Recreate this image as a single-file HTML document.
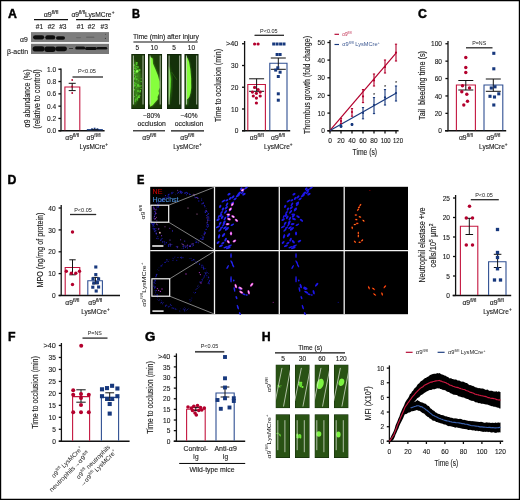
<!DOCTYPE html>
<html lang="en"><head><meta charset="utf-8"><title>Figure</title>
<style>html,body{margin:0;padding:0;background:#fff}body{width:520px;height:500px;overflow:hidden}svg{display:block}text{white-space:pre}</style></head>
<body>
<svg width="520" height="500" viewBox="0 0 520 500" font-family='"Liberation Sans", sans-serif'>
<defs>
<filter id="b04" x="-20%" y="-20%" width="140%" height="140%"><feGaussianBlur stdDeviation="0.4"/></filter>
<filter id="b05" x="-20%" y="-20%" width="140%" height="140%"><feGaussianBlur stdDeviation="0.5"/></filter>
<filter id="b06" x="-20%" y="-20%" width="140%" height="140%"><feGaussianBlur stdDeviation="0.6"/></filter>
<filter id="b07" x="-20%" y="-20%" width="140%" height="140%"><feGaussianBlur stdDeviation="0.7"/></filter>
<filter id="b08" x="-20%" y="-20%" width="140%" height="140%"><feGaussianBlur stdDeviation="0.8"/></filter>
<filter id="b12" x="-20%" y="-20%" width="140%" height="140%"><feGaussianBlur stdDeviation="1.2"/></filter>
<clipPath id="cb0"><rect x="131.2" y="53.9" width="13.80" height="55.2"/></clipPath>
<clipPath id="cb1"><rect x="147.9" y="53.9" width="14.30" height="55.2"/></clipPath>
<clipPath id="cb2"><rect x="166.9" y="53.9" width="14.80" height="55.2"/></clipPath>
<clipPath id="cb3"><rect x="184.3" y="53.9" width="14.40" height="55.2"/></clipPath>
<clipPath id="ch0"><rect x="275.5" y="364.5" width="14.50" height="43.80"/></clipPath>
<clipPath id="ch1"><rect x="294.9" y="364.5" width="14.80" height="43.80"/></clipPath>
<clipPath id="ch2"><rect x="314.5" y="364.5" width="14.70" height="43.80"/></clipPath>
<clipPath id="ch3"><rect x="333.9" y="364.5" width="14.70" height="43.80"/></clipPath>
<clipPath id="ch4"><rect x="275.5" y="414.2" width="14.50" height="43.80"/></clipPath>
<clipPath id="ch5"><rect x="294.9" y="414.2" width="14.80" height="43.80"/></clipPath>
<clipPath id="ch6"><rect x="314.5" y="414.2" width="14.70" height="43.80"/></clipPath>
<clipPath id="ch7"><rect x="333.9" y="414.2" width="14.70" height="43.80"/></clipPath>
</defs>
<rect x="0.00" y="0.00" width="520.00" height="500.00" fill="#fff"/>
<path d="M0 0H520V500H0Z M1.2 1.3V498.8H518.8V1.3Z" fill="#000" fill-rule="evenodd"/>
<text x="8.1" y="18.099999999999998" font-size="12.3" font-weight="bold" fill="#000" stroke="#000" stroke-width="0.45">A</text>
<text x="51" y="16.9" font-size="6.8" text-anchor="middle" textLength="14.6" lengthAdjust="spacingAndGlyphs" fill="#1a1a1a" stroke="#1a1a1a" stroke-width="0.12">α9<tspan font-size="4.9" dy="-3.13">fl/fl</tspan></text>
<line x1="34" y1="19.6" x2="68" y2="19.6" stroke="#111" stroke-width="1.1"/>
<text x="71.4" y="17" font-size="6.8" textLength="43" lengthAdjust="spacingAndGlyphs" fill="#1a1a1a" stroke="#1a1a1a" stroke-width="0.12">α9<tspan font-size="4.8" dy="-3.1">fl/fl</tspan><tspan dy="3.1">LysMCre</tspan><tspan font-size="4.8" dy="-3.1">+</tspan></text>
<line x1="76" y1="19.6" x2="110" y2="19.6" stroke="#111" stroke-width="1.1"/>
<text x="39.5" y="29.2" font-size="6.6" text-anchor="middle" fill="#1a1a1a" stroke="#1a1a1a" stroke-width="0.12">#1</text>
<text x="51.3" y="29.2" font-size="6.6" text-anchor="middle" fill="#1a1a1a" stroke="#1a1a1a" stroke-width="0.12">#2</text>
<text x="62.8" y="29.2" font-size="6.6" text-anchor="middle" fill="#1a1a1a" stroke="#1a1a1a" stroke-width="0.12">#3</text>
<text x="80.5" y="29.2" font-size="6.6" text-anchor="middle" fill="#1a1a1a" stroke="#1a1a1a" stroke-width="0.12">#1</text>
<text x="91.5" y="29.2" font-size="6.6" text-anchor="middle" fill="#1a1a1a" stroke="#1a1a1a" stroke-width="0.12">#2</text>
<text x="104.2" y="29.2" font-size="6.6" text-anchor="middle" fill="#1a1a1a" stroke="#1a1a1a" stroke-width="0.12">#3</text>
<g filter="url(#b06)">
<rect x="31.00" y="32.10" width="78.00" height="10.00" fill="#7e7e7e"/>
<rect x="31.00" y="43.80" width="78.00" height="10.20" fill="#787878"/>
</g>
<g filter="url(#b06)">
<rect x="33" y="35.199999999999996" width="11.200000000000003" height="4.2" rx="2.1" fill="#111" opacity="1"/>
<rect x="45.2" y="35.199999999999996" width="10.0" height="4.4" rx="2.2" fill="#111" opacity="1"/>
<rect x="56" y="36.3" width="9" height="3.4" rx="1.7" fill="#111" opacity="1"/>
<rect x="76" y="37.0" width="5" height="1.2" rx="0.6" fill="#444" opacity="0.35"/>
<rect x="86" y="36.55" width="8.5" height="1.5" rx="0.75" fill="#444" opacity="0.4"/>
<circle cx="105.60" cy="34.20" r="0.5" fill="#444"/>
<circle cx="105.40" cy="38.30" r="0.6" fill="#333"/>
<rect x="32.6" y="46.199999999999996" width="12.0" height="5.2" rx="2.6" fill="#111"/>
<rect x="44.4" y="46.5" width="11.200000000000003" height="5.4" rx="2.7" fill="#111"/>
<rect x="55.2" y="46.4" width="11.799999999999997" height="4.8" rx="2.4" fill="#111"/>
<rect x="75.2" y="46.5" width="10.0" height="3" rx="1.5" fill="#111"/>
<rect x="85" y="47.0" width="11.799999999999997" height="3" rx="1.5" fill="#111"/>
<rect x="96.6" y="46.900000000000006" width="10.600000000000009" height="2.6" rx="1.3" fill="#111"/>
<rect x="69.00" y="48.10" width="4.00" height="0.90" fill="#333"/>
</g>
<text x="27.8" y="42.2" font-size="6.8" text-anchor="end" fill="#1a1a1a" stroke="#1a1a1a" stroke-width="0.12">α9</text>
<text x="28" y="53.6" font-size="6.8" text-anchor="end" textLength="21" lengthAdjust="spacingAndGlyphs" fill="#1a1a1a" stroke="#1a1a1a" stroke-width="0.12">β-actin</text>
<line x1="61" y1="68.6" x2="61" y2="131.3" stroke="#111" stroke-width="1.3"/>
<line x1="58.4" y1="69.25" x2="61" y2="69.25" stroke="#111" stroke-width="1.3"/>
<text x="56.2" y="71.878" font-size="7.3" text-anchor="end" textLength="9.13" lengthAdjust="spacingAndGlyphs" fill="#1a1a1a" stroke="#1a1a1a" stroke-width="0.12">1.0</text>
<line x1="58.4" y1="81.55" x2="61" y2="81.55" stroke="#111" stroke-width="1.3"/>
<text x="56.2" y="84.178" font-size="7.3" text-anchor="end" textLength="9.13" lengthAdjust="spacingAndGlyphs" fill="#1a1a1a" stroke="#1a1a1a" stroke-width="0.12">0.8</text>
<line x1="58.4" y1="93.85" x2="61" y2="93.85" stroke="#111" stroke-width="1.3"/>
<text x="56.2" y="96.478" font-size="7.3" text-anchor="end" textLength="9.13" lengthAdjust="spacingAndGlyphs" fill="#1a1a1a" stroke="#1a1a1a" stroke-width="0.12">0.6</text>
<line x1="58.4" y1="106.15" x2="61" y2="106.15" stroke="#111" stroke-width="1.3"/>
<text x="56.2" y="108.778" font-size="7.3" text-anchor="end" textLength="9.13" lengthAdjust="spacingAndGlyphs" fill="#1a1a1a" stroke="#1a1a1a" stroke-width="0.12">0.4</text>
<line x1="58.4" y1="118.45" x2="61" y2="118.45" stroke="#111" stroke-width="1.3"/>
<text x="56.2" y="121.078" font-size="7.3" text-anchor="end" textLength="9.13" lengthAdjust="spacingAndGlyphs" fill="#1a1a1a" stroke="#1a1a1a" stroke-width="0.12">0.2</text>
<line x1="58.4" y1="130.75" x2="61" y2="130.75" stroke="#111" stroke-width="1.3"/>
<text x="56.2" y="133.378" font-size="7.3" text-anchor="end" textLength="9.13" lengthAdjust="spacingAndGlyphs" fill="#1a1a1a" stroke="#1a1a1a" stroke-width="0.12">0.0</text>
<line x1="58.6" y1="130.75" x2="104.6" y2="130.75" stroke="#111" stroke-width="1.3"/>
<path d="M64.90 130.20V87.00H79.80V130.20" fill="none" stroke="#c4163f" stroke-width="1.1"/>
<path d="M87.40 130.20V129.60H102.30V130.20" fill="none" stroke="#2f4f92" stroke-width="1.1"/>
<line x1="72.2" y1="83.3" x2="72.2" y2="90.6" stroke="#111" stroke-width="1.0"/>
<line x1="68.7" y1="83.3" x2="75.7" y2="83.3" stroke="#111" stroke-width="1.0"/>
<line x1="68.7" y1="90.6" x2="75.7" y2="90.6" stroke="#111" stroke-width="1.0"/>
<circle cx="72.20" cy="80.00" r="0.9" fill="#b3002d"/>
<circle cx="72.20" cy="86.50" r="0.9" fill="#b3002d"/>
<circle cx="72.20" cy="93.00" r="0.9" fill="#b3002d"/>
<rect x="91.10" y="128.30" width="1.8" height="1.8" fill="#17387d"/>
<rect x="93.70" y="127.70" width="1.8" height="1.8" fill="#17387d"/>
<rect x="96.50" y="128.30" width="1.8" height="1.8" fill="#17387d"/>
<line x1="91.5" y1="129.6" x2="98.5" y2="129.6" stroke="#111" stroke-width="0.7"/>
<text x="87" y="73.2" font-size="5.7" text-anchor="middle" textLength="18" lengthAdjust="spacingAndGlyphs" fill="#1a1a1a">P&lt;0.05</text>
<line x1="72.5" y1="77.0" x2="103" y2="77.0" stroke="#2a2a2a" stroke-width="1.3"/>
<text x="29.8" y="98.5" font-size="8.6" text-anchor="middle" textLength="58" lengthAdjust="spacingAndGlyphs" fill="#1a1a1a" transform="rotate(-90 29.8 98.5)" stroke="#1a1a1a" stroke-width="0.14">α9 abundance (%)</text>
<text x="39.8" y="99" font-size="8.6" text-anchor="middle" textLength="59.5" lengthAdjust="spacingAndGlyphs" fill="#1a1a1a" transform="rotate(-90 39.8 99)" stroke="#1a1a1a" stroke-width="0.14">(relative to control)</text>
<text x="72.2" y="140.2" font-size="6.8" text-anchor="middle" fill="#1a1a1a" stroke="#1a1a1a" stroke-width="0.12">α9<tspan font-size="4.9" dy="-3.13">fl/fl</tspan></text>
<text x="93.6" y="140.2" font-size="6.8" text-anchor="middle" fill="#1a1a1a" stroke="#1a1a1a" stroke-width="0.12">α9<tspan font-size="4.9" dy="-3.13">fl/fl</tspan></text>
<text x="93.8" y="149" font-size="6.8" text-anchor="middle" textLength="28.5" lengthAdjust="spacingAndGlyphs" fill="#1a1a1a" stroke="#1a1a1a" stroke-width="0.12">LysMCre<tspan font-size="4.9" dy="-3.13">+</tspan></text>
<text x="132.1" y="17.599999999999998" font-size="12.3" textLength="8.0" lengthAdjust="spacingAndGlyphs" font-weight="bold" fill="#000" stroke="#000" stroke-width="0.45">B</text>
<text x="166" y="38.9" font-size="6.5" text-anchor="middle" textLength="66" lengthAdjust="spacingAndGlyphs" fill="#1a1a1a" stroke="#1a1a1a" stroke-width="0.12">Time (min) after injury</text>
<line x1="133.4" y1="42" x2="197.7" y2="42" stroke="#111" stroke-width="1.1"/>
<text x="137.2" y="50.4" font-size="6.5" text-anchor="middle" fill="#1a1a1a" stroke="#1a1a1a" stroke-width="0.12">5</text>
<text x="154.2" y="50.4" font-size="6.5" text-anchor="middle" fill="#1a1a1a" stroke="#1a1a1a" stroke-width="0.12">10</text>
<text x="174" y="50.4" font-size="6.5" text-anchor="middle" fill="#1a1a1a" stroke="#1a1a1a" stroke-width="0.12">5</text>
<text x="191.4" y="50.4" font-size="6.5" text-anchor="middle" fill="#1a1a1a" stroke="#1a1a1a" stroke-width="0.12">10</text>
<g clip-path="url(#cb0)">
<rect x="131.20" y="53.90" width="13.80" height="55.20" fill="#0a1a04"/>
<rect x="131.80" y="54.50" width="12.60" height="54.00" fill="#1d3d0b"/>
<path d="M133.50 58.90L136.10 62.90L139.60 69.70L141.00 75.60L140.40 87.40L138.60 96.90L135.70 103.90L133.50 105.90Z" fill="#3c8a1b" opacity="0.9" filter="url(#b12)"/>
<g filter="url(#b05)">
<circle cx="134.89" cy="75.50" r="0.5" fill="#52c42a"/>
<circle cx="134.33" cy="96.39" r="0.5" fill="#5fd830"/>
<circle cx="134.32" cy="70.92" r="1.0" fill="#52c42a"/>
<circle cx="137.34" cy="72.01" r="0.5" fill="#5fd830"/>
<circle cx="134.88" cy="67.10" r="0.5" fill="#5fd830"/>
<circle cx="134.19" cy="86.49" r="0.6" fill="#52c42a"/>
<circle cx="134.85" cy="85.28" r="1.0" fill="#52c42a"/>
<circle cx="138.34" cy="84.61" r="0.6" fill="#52c42a"/>
<circle cx="138.81" cy="86.33" r="0.8" fill="#52c42a"/>
<circle cx="134.30" cy="84.91" r="0.5" fill="#5fd830"/>
<circle cx="137.88" cy="70.55" r="1.0" fill="#49b024"/>
<circle cx="141.16" cy="81.46" r="0.8" fill="#49b024"/>
<circle cx="134.97" cy="72.33" r="0.6" fill="#52c42a"/>
<circle cx="137.93" cy="86.03" r="0.8" fill="#5fd830"/>
<circle cx="138.63" cy="80.75" r="0.5" fill="#52c42a"/>
<circle cx="135.12" cy="83.40" r="0.8" fill="#52c42a"/>
<circle cx="135.45" cy="101.10" r="0.5" fill="#5fd830"/>
<circle cx="140.69" cy="85.97" r="0.8" fill="#49b024"/>
<circle cx="138.01" cy="91.10" r="1.0" fill="#52c42a"/>
<circle cx="138.87" cy="97.18" r="1.0" fill="#5fd830"/>
<circle cx="134.25" cy="89.79" r="0.8" fill="#5fd830"/>
<circle cx="139.15" cy="86.17" r="1.0" fill="#49b024"/>
<circle cx="139.90" cy="92.00" r="0.8" fill="#52c42a"/>
<circle cx="135.15" cy="101.41" r="0.5" fill="#49b024"/>
<circle cx="136.70" cy="64.38" r="0.6" fill="#5fd830"/>
<circle cx="136.34" cy="72.30" r="1.0" fill="#52c42a"/>
<circle cx="135.99" cy="68.89" r="0.8" fill="#52c42a"/>
<circle cx="138.68" cy="96.31" r="0.8" fill="#5fd830"/>
<circle cx="136.61" cy="79.34" r="1.0" fill="#52c42a"/>
<circle cx="134.72" cy="68.24" r="0.6" fill="#5fd830"/>
<circle cx="136.87" cy="71.70" r="0.6" fill="#49b024"/>
<circle cx="134.80" cy="73.74" r="0.8" fill="#5fd830"/>
<circle cx="141.32" cy="85.69" r="0.5" fill="#49b024"/>
<circle cx="137.28" cy="99.68" r="1.0" fill="#49b024"/>
<circle cx="134.60" cy="78.66" r="1.0" fill="#52c42a"/>
<circle cx="139.50" cy="69.91" r="1.0" fill="#52c42a"/>
<circle cx="136.57" cy="66.52" r="0.5" fill="#52c42a"/>
<circle cx="138.03" cy="85.70" r="0.8" fill="#5fd830"/>
<circle cx="136.61" cy="62.97" r="1.0" fill="#52c42a"/>
<circle cx="141.02" cy="88.55" r="0.8" fill="#49b024"/>
<circle cx="137.88" cy="67.06" r="1.0" fill="#49b024"/>
<circle cx="134.49" cy="82.22" r="0.5" fill="#5fd830"/>
<circle cx="135.76" cy="76.29" r="0.6" fill="#5fd830"/>
<circle cx="136.81" cy="62.87" r="0.8" fill="#52c42a"/>
<circle cx="140.32" cy="90.88" r="0.8" fill="#5fd830"/>
<circle cx="137.29" cy="98.16" r="0.8" fill="#5fd830"/>
<circle cx="135.06" cy="77.30" r="0.6" fill="#5fd830"/>
<circle cx="137.80" cy="84.65" r="0.6" fill="#5fd830"/>
<circle cx="139.47" cy="95.98" r="0.6" fill="#52c42a"/>
<circle cx="137.99" cy="96.27" r="0.6" fill="#52c42a"/>
<circle cx="136.64" cy="83.64" r="0.5" fill="#52c42a"/>
<circle cx="136.65" cy="95.08" r="0.6" fill="#5fd830"/>
<circle cx="136.46" cy="87.32" r="0.8" fill="#49b024"/>
<circle cx="134.22" cy="65.28" r="1.0" fill="#52c42a"/>
<circle cx="137.35" cy="76.08" r="0.5" fill="#49b024"/>
<circle cx="135.28" cy="100.09" r="0.5" fill="#5fd830"/>
<circle cx="135.65" cy="66.94" r="0.6" fill="#49b024"/>
<circle cx="135.81" cy="99.24" r="0.8" fill="#52c42a"/>
<circle cx="139.53" cy="95.53" r="1.0" fill="#49b024"/>
<circle cx="141.15" cy="78.76" r="0.6" fill="#52c42a"/>
<circle cx="137.10" cy="71.30" r="1.2" fill="#8cff55"/>
</g>
<line x1="133.39999999999998" y1="55.5" x2="133.39999999999998" y2="104.5" stroke="#d0d8c8" stroke-width="0.8"/>
<line x1="143.0" y1="55.5" x2="143.0" y2="104.5" stroke="#d0d8c8" stroke-width="0.8"/>
</g>
<g clip-path="url(#cb1)">
<rect x="147.90" y="53.90" width="14.30" height="55.20" fill="#0a1a04"/>
<rect x="148.50" y="54.50" width="13.10" height="54.00" fill="#1d3d0b"/>
<path d="M150.00 56.70L152.60 58.50L153.00 63.80L155.60 69.70L157.90 75.60L159.50 81.50L159.60 87.40L158.50 90.90L159.10 93.30L157.50 96.90L157.80 99.30L155.60 101.80L152.60 105.30L150.00 106.70Z" fill="#58c226" opacity="0.9" filter="url(#b12)"/>
<path d="M150.00 56.70L152.60 58.50L153.00 63.80L155.60 69.70L157.90 75.60L159.50 81.50L159.60 87.40L158.50 90.90L159.10 93.30L157.50 96.90L157.80 99.30L155.60 101.80L152.60 105.30L150.00 106.70Z" fill="#86ff3e" filter="url(#b04)"/>
<line x1="150.1" y1="55.5" x2="150.1" y2="104.5" stroke="#d0d8c8" stroke-width="0.8"/>
<line x1="160.2" y1="55.5" x2="160.2" y2="104.5" stroke="#d0d8c8" stroke-width="0.8"/>
</g>
<g clip-path="url(#cb2)">
<rect x="166.90" y="53.90" width="14.80" height="55.20" fill="#0a1a04"/>
<rect x="167.50" y="54.50" width="13.60" height="54.00" fill="#14310a"/>
<path d="M168.80 62.90L170.50 69.90L172.30 77.90L172.10 85.90L171.10 95.90L169.50 103.90L168.80 105.90Z" fill="#2e7a14" opacity="0.9" filter="url(#b12)"/>
<path d="M168.80 65.90L170.10 71.90L171.10 78.90L170.80 86.90L169.90 95.90L168.80 101.90Z" fill="#5cd42a" filter="url(#b07)"/>
<path d="M171.5 71.9L176.9 79.9" stroke="#245c10" stroke-width="0.8" filter="url(#b05)"/>
<line x1="169.1" y1="55.5" x2="169.1" y2="104.5" stroke="#d0d8c8" stroke-width="0.8"/>
<line x1="179.7" y1="55.5" x2="179.7" y2="104.5" stroke="#d0d8c8" stroke-width="0.8"/>
</g>
<g clip-path="url(#cb3)">
<rect x="184.30" y="53.90" width="14.40" height="55.20" fill="#0a1a04"/>
<rect x="184.90" y="54.50" width="13.20" height="54.00" fill="#14310a"/>
<path d="M186.20 56.70L187.50 57.90L189.10 61.90L190.30 68.90L191.10 77.90L191.20 87.90L190.50 92.90L189.30 96.90L188.10 98.50L187.70 103.90L186.20 106.50Z" fill="#4caf22" opacity="0.9" filter="url(#b12)"/>
<path d="M186.20 56.70L187.50 57.90L189.10 61.90L190.30 68.90L191.10 77.90L191.20 87.90L190.50 92.90L189.30 96.90L188.10 98.50L186.20 99.90Z" fill="#86ff3e" filter="url(#b04)"/>
<path d="M196.70000000000002 61.9V91.9" stroke="#3f8f1d" stroke-width="1.3" opacity=".8" filter="url(#b07)"/>
<line x1="186.5" y1="55.5" x2="186.5" y2="104.5" stroke="#d0d8c8" stroke-width="0.8"/>
<line x1="196.7" y1="55.5" x2="196.7" y2="104.5" stroke="#d0d8c8" stroke-width="0.8"/>
</g>
<text x="151.5" y="117.9" font-size="6.5" text-anchor="middle" textLength="17" lengthAdjust="spacingAndGlyphs" fill="#1a1a1a" stroke="#1a1a1a" stroke-width="0.12">~80%</text>
<text x="151.7" y="126.2" font-size="6.5" text-anchor="middle" textLength="28.5" lengthAdjust="spacingAndGlyphs" fill="#1a1a1a" stroke="#1a1a1a" stroke-width="0.12">occlusion</text>
<text x="189" y="117.9" font-size="6.5" text-anchor="middle" textLength="17" lengthAdjust="spacingAndGlyphs" fill="#1a1a1a" stroke="#1a1a1a" stroke-width="0.12">~40%</text>
<text x="189" y="126.2" font-size="6.5" text-anchor="middle" textLength="28.5" lengthAdjust="spacingAndGlyphs" fill="#1a1a1a" stroke="#1a1a1a" stroke-width="0.12">occlusion</text>
<line x1="133" y1="130.8" x2="165" y2="130.8" stroke="#111" stroke-width="1.15"/>
<line x1="171" y1="130.8" x2="204" y2="130.8" stroke="#111" stroke-width="1.15"/>
<text x="149.3" y="140.2" font-size="6.8" text-anchor="middle" fill="#1a1a1a" stroke="#1a1a1a" stroke-width="0.12">α9<tspan font-size="4.9" dy="-3.13">fl/fl</tspan></text>
<text x="187.3" y="140.2" font-size="6.8" text-anchor="middle" fill="#1a1a1a" stroke="#1a1a1a" stroke-width="0.12">α9<tspan font-size="4.9" dy="-3.13">fl/fl</tspan></text>
<text x="187.5" y="149" font-size="6.8" text-anchor="middle" textLength="28.5" lengthAdjust="spacingAndGlyphs" fill="#1a1a1a" stroke="#1a1a1a" stroke-width="0.12">LysMCre<tspan font-size="4.9" dy="-3.13">+</tspan></text>
<line x1="244.6" y1="41" x2="244.6" y2="131.3" stroke="#111" stroke-width="1.3"/>
<line x1="242.0" y1="43.75" x2="244.6" y2="43.75" stroke="#111" stroke-width="1.3"/>
<text x="238.4" y="46.378" font-size="7.3" text-anchor="end" textLength="12.38" lengthAdjust="spacingAndGlyphs" fill="#1a1a1a" stroke="#1a1a1a" stroke-width="0.12">&gt;40</text>
<line x1="242.0" y1="65.5" x2="244.6" y2="65.5" stroke="#111" stroke-width="1.3"/>
<text x="238.4" y="68.128" font-size="7.3" text-anchor="end" textLength="7.31" lengthAdjust="spacingAndGlyphs" fill="#1a1a1a" stroke="#1a1a1a" stroke-width="0.12">30</text>
<line x1="242.0" y1="87.25" x2="244.6" y2="87.25" stroke="#111" stroke-width="1.3"/>
<text x="238.4" y="89.878" font-size="7.3" text-anchor="end" textLength="7.31" lengthAdjust="spacingAndGlyphs" fill="#1a1a1a" stroke="#1a1a1a" stroke-width="0.12">20</text>
<line x1="242.0" y1="109" x2="244.6" y2="109" stroke="#111" stroke-width="1.3"/>
<text x="238.4" y="111.628" font-size="7.3" text-anchor="end" textLength="7.31" lengthAdjust="spacingAndGlyphs" fill="#1a1a1a" stroke="#1a1a1a" stroke-width="0.12">10</text>
<line x1="242.0" y1="130.75" x2="244.6" y2="130.75" stroke="#111" stroke-width="1.3"/>
<text x="238.4" y="133.378" font-size="7.3" text-anchor="end" textLength="3.65" lengthAdjust="spacingAndGlyphs" fill="#1a1a1a" stroke="#1a1a1a" stroke-width="0.12">0</text>
<line x1="242" y1="130.75" x2="290.2" y2="130.75" stroke="#111" stroke-width="1.3"/>
<path d="M247.80 130.20V84.50H265.40V130.20" fill="none" stroke="#c4163f" stroke-width="1.1"/>
<path d="M269.80 130.20V63.30H287.00V130.20" fill="none" stroke="#2f4f92" stroke-width="1.1"/>
<line x1="256.6" y1="78.8" x2="256.6" y2="91.3" stroke="#111" stroke-width="1.0"/>
<line x1="249.10000000000002" y1="78.8" x2="264.1" y2="78.8" stroke="#111" stroke-width="1.0"/>
<line x1="249.10000000000002" y1="91.3" x2="264.1" y2="91.3" stroke="#111" stroke-width="1.0"/>
<line x1="278.3" y1="58" x2="278.3" y2="69.3" stroke="#111" stroke-width="1.0"/>
<line x1="270.8" y1="58" x2="285.8" y2="58" stroke="#111" stroke-width="1.0"/>
<line x1="270.8" y1="69.3" x2="285.8" y2="69.3" stroke="#111" stroke-width="1.0"/>
<circle cx="254.60" cy="44.00" r="1.6" fill="#b3002d"/>
<circle cx="258.10" cy="44.00" r="1.6" fill="#b3002d"/>
<circle cx="254.60" cy="87.40" r="1.6" fill="#b3002d"/>
<circle cx="258.10" cy="89.50" r="1.6" fill="#b3002d"/>
<circle cx="252.40" cy="92.10" r="1.6" fill="#b3002d"/>
<circle cx="260.20" cy="92.10" r="1.6" fill="#b3002d"/>
<circle cx="256.40" cy="93.30" r="1.6" fill="#b3002d"/>
<circle cx="253.30" cy="96.00" r="1.6" fill="#b3002d"/>
<circle cx="260.20" cy="96.00" r="1.6" fill="#b3002d"/>
<circle cx="256.40" cy="98.10" r="1.6" fill="#b3002d"/>
<circle cx="256.40" cy="103.00" r="1.6" fill="#b3002d"/>
<rect x="272.20" y="42.50" width="3.0" height="3.0" fill="#17387d"/>
<rect x="275.60" y="42.50" width="3.0" height="3.0" fill="#17387d"/>
<rect x="279.10" y="42.50" width="3.0" height="3.0" fill="#17387d"/>
<rect x="282.50" y="42.50" width="3.0" height="3.0" fill="#17387d"/>
<rect x="275.60" y="53.00" width="3.0" height="3.0" fill="#17387d"/>
<rect x="278.60" y="53.00" width="3.0" height="3.0" fill="#17387d"/>
<rect x="276.30" y="66.30" width="3.0" height="3.0" fill="#17387d"/>
<rect x="274.20" y="68.60" width="3.0" height="3.0" fill="#17387d"/>
<rect x="278.60" y="70.70" width="3.0" height="3.0" fill="#17387d"/>
<rect x="276.80" y="75.00" width="3.0" height="3.0" fill="#17387d"/>
<rect x="276.80" y="92.30" width="3.0" height="3.0" fill="#17387d"/>
<rect x="276.80" y="98.70" width="3.0" height="3.0" fill="#17387d"/>
<text x="268.8" y="32.6" font-size="5.7" text-anchor="middle" textLength="17.6" lengthAdjust="spacingAndGlyphs" fill="#1a1a1a">P&lt;0.05</text>
<line x1="254.5" y1="35.3" x2="284" y2="35.3" stroke="#2a2a2a" stroke-width="1.3"/>
<text x="220.6" y="85.5" font-size="8.8" text-anchor="middle" textLength="73" lengthAdjust="spacingAndGlyphs" fill="#1a1a1a" transform="rotate(-90 220.6 85.5)" stroke="#1a1a1a" stroke-width="0.14">Time to occlusion (min)</text>
<text x="256.8" y="140.2" font-size="6.8" text-anchor="middle" fill="#1a1a1a" stroke="#1a1a1a" stroke-width="0.12">α9<tspan font-size="4.9" dy="-3.13">fl/fl</tspan></text>
<text x="278" y="140.2" font-size="6.8" text-anchor="middle" fill="#1a1a1a" stroke="#1a1a1a" stroke-width="0.12">α9<tspan font-size="4.9" dy="-3.13">fl/fl</tspan></text>
<text x="278.3" y="149" font-size="6.8" text-anchor="middle" textLength="28.5" lengthAdjust="spacingAndGlyphs" fill="#1a1a1a" stroke="#1a1a1a" stroke-width="0.12">LysMCre<tspan font-size="4.9" dy="-3.13">+</tspan></text>
<line x1="330" y1="40" x2="330" y2="131.3" stroke="#111" stroke-width="1.3"/>
<line x1="327.4" y1="42.5" x2="330" y2="42.5" stroke="#111" stroke-width="1.3"/>
<text x="324.8" y="45.128" font-size="7.3" text-anchor="end" textLength="7.31" lengthAdjust="spacingAndGlyphs" fill="#1a1a1a" stroke="#1a1a1a" stroke-width="0.12">50</text>
<line x1="327.4" y1="60.1" x2="330" y2="60.1" stroke="#111" stroke-width="1.3"/>
<text x="324.8" y="62.728" font-size="7.3" text-anchor="end" textLength="7.31" lengthAdjust="spacingAndGlyphs" fill="#1a1a1a" stroke="#1a1a1a" stroke-width="0.12">40</text>
<line x1="327.4" y1="77.8" x2="330" y2="77.8" stroke="#111" stroke-width="1.3"/>
<text x="324.8" y="80.428" font-size="7.3" text-anchor="end" textLength="7.31" lengthAdjust="spacingAndGlyphs" fill="#1a1a1a" stroke="#1a1a1a" stroke-width="0.12">30</text>
<line x1="327.4" y1="95.4" x2="330" y2="95.4" stroke="#111" stroke-width="1.3"/>
<text x="324.8" y="98.028" font-size="7.3" text-anchor="end" textLength="7.31" lengthAdjust="spacingAndGlyphs" fill="#1a1a1a" stroke="#1a1a1a" stroke-width="0.12">20</text>
<line x1="327.4" y1="113.1" x2="330" y2="113.1" stroke="#111" stroke-width="1.3"/>
<text x="324.8" y="115.728" font-size="7.3" text-anchor="end" textLength="7.31" lengthAdjust="spacingAndGlyphs" fill="#1a1a1a" stroke="#1a1a1a" stroke-width="0.12">10</text>
<line x1="327.4" y1="130.75" x2="330" y2="130.75" stroke="#111" stroke-width="1.3"/>
<text x="324.8" y="133.378" font-size="7.3" text-anchor="end" textLength="3.65" lengthAdjust="spacingAndGlyphs" fill="#1a1a1a" stroke="#1a1a1a" stroke-width="0.12">0</text>
<line x1="327.4" y1="130.75" x2="398.6" y2="130.75" stroke="#111" stroke-width="1.3"/>
<line x1="330" y1="130.75" x2="330" y2="133.4" stroke="#111" stroke-width="1.3"/>
<text x="330" y="143.3" font-size="7.3" text-anchor="middle" textLength="3.65" lengthAdjust="spacingAndGlyphs" fill="#1a1a1a" stroke="#1a1a1a" stroke-width="0.12">0</text>
<line x1="341" y1="130.75" x2="341" y2="133.4" stroke="#111" stroke-width="1.3"/>
<text x="341" y="143.3" font-size="7.3" text-anchor="middle" textLength="7.31" lengthAdjust="spacingAndGlyphs" fill="#1a1a1a" stroke="#1a1a1a" stroke-width="0.12">20</text>
<line x1="352" y1="130.75" x2="352" y2="133.4" stroke="#111" stroke-width="1.3"/>
<text x="352" y="143.3" font-size="7.3" text-anchor="middle" textLength="7.31" lengthAdjust="spacingAndGlyphs" fill="#1a1a1a" stroke="#1a1a1a" stroke-width="0.12">40</text>
<line x1="363" y1="130.75" x2="363" y2="133.4" stroke="#111" stroke-width="1.3"/>
<text x="363" y="143.3" font-size="7.3" text-anchor="middle" textLength="7.31" lengthAdjust="spacingAndGlyphs" fill="#1a1a1a" stroke="#1a1a1a" stroke-width="0.12">60</text>
<line x1="374" y1="130.75" x2="374" y2="133.4" stroke="#111" stroke-width="1.3"/>
<text x="374" y="143.3" font-size="7.3" text-anchor="middle" textLength="7.31" lengthAdjust="spacingAndGlyphs" fill="#1a1a1a" stroke="#1a1a1a" stroke-width="0.12">80</text>
<line x1="385" y1="130.75" x2="385" y2="133.4" stroke="#111" stroke-width="1.3"/>
<text x="385.7" y="143.3" font-size="7.3" text-anchor="middle" textLength="9.98" lengthAdjust="spacingAndGlyphs" fill="#1a1a1a" stroke="#1a1a1a" stroke-width="0.12">100</text>
<line x1="396" y1="130.75" x2="396" y2="133.4" stroke="#111" stroke-width="1.3"/>
<text x="398.0" y="143.3" font-size="7.3" text-anchor="middle" textLength="9.98" lengthAdjust="spacingAndGlyphs" fill="#1a1a1a" stroke="#1a1a1a" stroke-width="0.12">120</text>
<text x="364.8" y="155" font-size="8.8" text-anchor="middle" textLength="24.6" lengthAdjust="spacingAndGlyphs" fill="#1a1a1a" stroke="#1a1a1a" stroke-width="0.12">Time (s)</text>
<text x="310.4" y="85" font-size="8.8" text-anchor="middle" textLength="98" lengthAdjust="spacingAndGlyphs" fill="#1a1a1a" transform="rotate(-90 310.4 85)" stroke="#1a1a1a" stroke-width="0.14">Thrombus growth (fold change)</text>
<line x1="330" y1="130.4" x2="396" y2="53.2" stroke="#b3002d" stroke-width="1.2"/>
<line x1="330" y1="130.4" x2="396" y2="93.2" stroke="#17387d" stroke-width="1.2"/>
<line x1="341" y1="118.6" x2="341" y2="123.4" stroke="#b3002d" stroke-width="1.1"/>
<line x1="339.9" y1="118.6" x2="342.1" y2="118.6" stroke="#b3002d" stroke-width="1.1"/>
<line x1="339.9" y1="123.4" x2="342.1" y2="123.4" stroke="#b3002d" stroke-width="1.1"/>
<circle cx="341.00" cy="121.00" r="1.1" fill="#b3002d"/>
<line x1="352" y1="108.6" x2="352" y2="116.2" stroke="#b3002d" stroke-width="1.1"/>
<line x1="350.9" y1="108.6" x2="353.1" y2="108.6" stroke="#b3002d" stroke-width="1.1"/>
<line x1="350.9" y1="116.2" x2="353.1" y2="116.2" stroke="#b3002d" stroke-width="1.1"/>
<circle cx="352.00" cy="112.00" r="1.1" fill="#b3002d"/>
<line x1="363" y1="89.6" x2="363" y2="102.6" stroke="#b3002d" stroke-width="1.1"/>
<line x1="361.9" y1="89.6" x2="364.1" y2="89.6" stroke="#b3002d" stroke-width="1.1"/>
<line x1="361.9" y1="102.6" x2="364.1" y2="102.6" stroke="#b3002d" stroke-width="1.1"/>
<circle cx="363.00" cy="96.40" r="1.1" fill="#b3002d"/>
<line x1="374" y1="74" x2="374" y2="86" stroke="#b3002d" stroke-width="1.1"/>
<line x1="372.9" y1="74" x2="375.1" y2="74" stroke="#b3002d" stroke-width="1.1"/>
<line x1="372.9" y1="86" x2="375.1" y2="86" stroke="#b3002d" stroke-width="1.1"/>
<circle cx="374.00" cy="80.40" r="1.1" fill="#b3002d"/>
<line x1="385" y1="60" x2="385" y2="73" stroke="#b3002d" stroke-width="1.1"/>
<line x1="383.9" y1="60" x2="386.1" y2="60" stroke="#b3002d" stroke-width="1.1"/>
<line x1="383.9" y1="73" x2="386.1" y2="73" stroke="#b3002d" stroke-width="1.1"/>
<circle cx="385.00" cy="67.00" r="1.1" fill="#b3002d"/>
<line x1="396" y1="44.2" x2="396" y2="61" stroke="#b3002d" stroke-width="1.1"/>
<line x1="394.9" y1="44.2" x2="397.1" y2="44.2" stroke="#b3002d" stroke-width="1.1"/>
<line x1="394.9" y1="61" x2="397.1" y2="61" stroke="#b3002d" stroke-width="1.1"/>
<circle cx="396.00" cy="52.60" r="1.1" fill="#b3002d"/>
<line x1="341" y1="125.2" x2="341" y2="127.2" stroke="#17387d" stroke-width="1.1"/>
<line x1="339.9" y1="125.2" x2="342.1" y2="125.2" stroke="#17387d" stroke-width="1.1"/>
<line x1="339.9" y1="127.2" x2="342.1" y2="127.2" stroke="#17387d" stroke-width="1.1"/>
<circle cx="341.00" cy="126.20" r="1.4" fill="#17387d"/>
<line x1="352" y1="123.8" x2="352" y2="125.2" stroke="#17387d" stroke-width="1.1"/>
<line x1="350.9" y1="123.8" x2="353.1" y2="123.8" stroke="#17387d" stroke-width="1.1"/>
<line x1="350.9" y1="125.2" x2="353.1" y2="125.2" stroke="#17387d" stroke-width="1.1"/>
<circle cx="352.00" cy="124.50" r="1.4" fill="#17387d"/>
<line x1="363" y1="107.6" x2="363" y2="118.8" stroke="#17387d" stroke-width="1.1"/>
<line x1="361.9" y1="107.6" x2="364.1" y2="107.6" stroke="#17387d" stroke-width="1.1"/>
<line x1="361.9" y1="118.8" x2="364.1" y2="118.8" stroke="#17387d" stroke-width="1.1"/>
<circle cx="363.00" cy="113.00" r="1.1" fill="#17387d"/>
<line x1="374" y1="97.6" x2="374" y2="113.6" stroke="#17387d" stroke-width="1.1"/>
<line x1="372.9" y1="97.6" x2="375.1" y2="97.6" stroke="#17387d" stroke-width="1.1"/>
<line x1="372.9" y1="113.6" x2="375.1" y2="113.6" stroke="#17387d" stroke-width="1.1"/>
<circle cx="374.00" cy="105.00" r="1.1" fill="#17387d"/>
<line x1="385" y1="89.6" x2="385" y2="105" stroke="#17387d" stroke-width="1.1"/>
<line x1="383.9" y1="89.6" x2="386.1" y2="89.6" stroke="#17387d" stroke-width="1.1"/>
<line x1="383.9" y1="105" x2="386.1" y2="105" stroke="#17387d" stroke-width="1.1"/>
<circle cx="385.00" cy="97.40" r="1.1" fill="#17387d"/>
<line x1="396" y1="86" x2="396" y2="101" stroke="#17387d" stroke-width="1.1"/>
<line x1="394.9" y1="86" x2="397.1" y2="86" stroke="#17387d" stroke-width="1.1"/>
<line x1="394.9" y1="101" x2="397.1" y2="101" stroke="#17387d" stroke-width="1.1"/>
<circle cx="396.00" cy="93.00" r="1.1" fill="#17387d"/>
<text x="374" y="97.0" font-size="5.6" text-anchor="middle" fill="#000">*</text>
<text x="385" y="89.39999999999999" font-size="5.6" text-anchor="middle" fill="#000">*</text>
<text x="396" y="85.39999999999999" font-size="5.6" text-anchor="middle" fill="#000">*</text>
<line x1="334.5" y1="34.3" x2="339" y2="34.3" stroke="#b3002d" stroke-width="1.15"/>
<text x="342.3" y="36" font-size="4.6" fill="#b3002d" opacity=".85">α9<tspan font-size="3.2" dy="-2">fl/fl</tspan></text>
<line x1="334.5" y1="44.5" x2="339" y2="44.5" stroke="#17387d" stroke-width="1.15"/>
<text x="342.3" y="46.2" font-size="4.6" textLength="37.6" lengthAdjust="spacingAndGlyphs" fill="#17387d" opacity=".85">α9<tspan font-size="3.2" dy="-2">fl/fl</tspan><tspan dy="2"> LysMCre</tspan><tspan font-size="3.2" dy="-2">+</tspan></text>
<text x="417.9" y="17.799999999999997" font-size="12.3" font-weight="bold" fill="#000" stroke="#000" stroke-width="0.45">C</text>
<line x1="448" y1="41" x2="448" y2="131.3" stroke="#111" stroke-width="1.3"/>
<line x1="445.4" y1="43.75" x2="448" y2="43.75" stroke="#111" stroke-width="1.3"/>
<text x="442" y="46.378" font-size="7.3" text-anchor="end" textLength="10.96" lengthAdjust="spacingAndGlyphs" fill="#1a1a1a" stroke="#1a1a1a" stroke-width="0.12">100</text>
<line x1="445.4" y1="61.15" x2="448" y2="61.15" stroke="#111" stroke-width="1.3"/>
<text x="442" y="63.778" font-size="7.3" text-anchor="end" textLength="7.31" lengthAdjust="spacingAndGlyphs" fill="#1a1a1a" stroke="#1a1a1a" stroke-width="0.12">80</text>
<line x1="445.4" y1="78.55" x2="448" y2="78.55" stroke="#111" stroke-width="1.3"/>
<text x="442" y="81.178" font-size="7.3" text-anchor="end" textLength="7.31" lengthAdjust="spacingAndGlyphs" fill="#1a1a1a" stroke="#1a1a1a" stroke-width="0.12">60</text>
<line x1="445.4" y1="95.95" x2="448" y2="95.95" stroke="#111" stroke-width="1.3"/>
<text x="442" y="98.578" font-size="7.3" text-anchor="end" textLength="7.31" lengthAdjust="spacingAndGlyphs" fill="#1a1a1a" stroke="#1a1a1a" stroke-width="0.12">40</text>
<line x1="445.4" y1="113.35" x2="448" y2="113.35" stroke="#111" stroke-width="1.3"/>
<text x="442" y="115.978" font-size="7.3" text-anchor="end" textLength="7.31" lengthAdjust="spacingAndGlyphs" fill="#1a1a1a" stroke="#1a1a1a" stroke-width="0.12">20</text>
<line x1="445.4" y1="130.75" x2="448" y2="130.75" stroke="#111" stroke-width="1.3"/>
<text x="442" y="133.378" font-size="7.3" text-anchor="end" textLength="3.65" lengthAdjust="spacingAndGlyphs" fill="#1a1a1a" stroke="#1a1a1a" stroke-width="0.12">0</text>
<line x1="445" y1="130.75" x2="506.2" y2="130.75" stroke="#111" stroke-width="1.3"/>
<path d="M456.40 130.20V85.00H475.40V130.20" fill="none" stroke="#c4163f" stroke-width="1.1"/>
<path d="M484.00 130.20V85.00H502.80V130.20" fill="none" stroke="#2f4f92" stroke-width="1.1"/>
<line x1="465.8" y1="80.5" x2="465.8" y2="90" stroke="#111" stroke-width="1.0"/>
<line x1="458.3" y1="80.5" x2="473.3" y2="80.5" stroke="#111" stroke-width="1.0"/>
<line x1="458.3" y1="90" x2="473.3" y2="90" stroke="#111" stroke-width="1.0"/>
<line x1="493.3" y1="79" x2="493.3" y2="91.3" stroke="#111" stroke-width="1.0"/>
<line x1="485.8" y1="79" x2="500.8" y2="79" stroke="#111" stroke-width="1.0"/>
<line x1="485.8" y1="91.3" x2="500.8" y2="91.3" stroke="#111" stroke-width="1.0"/>
<circle cx="465.80" cy="57.50" r="1.7" fill="#b3002d"/>
<circle cx="465.80" cy="67.50" r="1.7" fill="#b3002d"/>
<circle cx="465.80" cy="72.50" r="1.7" fill="#b3002d"/>
<circle cx="462.50" cy="85.80" r="1.7" fill="#b3002d"/>
<circle cx="469.50" cy="88.00" r="1.7" fill="#b3002d"/>
<circle cx="461.80" cy="91.80" r="1.7" fill="#b3002d"/>
<circle cx="466.80" cy="94.30" r="1.7" fill="#b3002d"/>
<circle cx="467.50" cy="101.30" r="1.7" fill="#b3002d"/>
<circle cx="463.80" cy="105.00" r="1.7" fill="#b3002d"/>
<rect x="492.25" y="51.75" width="3.1" height="3.1" fill="#17387d"/>
<rect x="492.25" y="67.25" width="3.1" height="3.1" fill="#17387d"/>
<rect x="493.45" y="85.25" width="3.1" height="3.1" fill="#17387d"/>
<rect x="489.75" y="86.45" width="3.1" height="3.1" fill="#17387d"/>
<rect x="488.45" y="94.75" width="3.1" height="3.1" fill="#17387d"/>
<rect x="492.95" y="95.45" width="3.1" height="3.1" fill="#17387d"/>
<rect x="497.25" y="92.25" width="3.1" height="3.1" fill="#17387d"/>
<rect x="492.25" y="103.45" width="3.1" height="3.1" fill="#17387d"/>
<text x="479.2" y="45.2" font-size="5.7" text-anchor="middle" textLength="14" lengthAdjust="spacingAndGlyphs" fill="#1a1a1a">P=NS</text>
<line x1="466" y1="47.8" x2="492.5" y2="47.8" stroke="#2a2a2a" stroke-width="1.3"/>
<text x="425.4" y="85.5" font-size="8.8" text-anchor="middle" textLength="69" lengthAdjust="spacingAndGlyphs" fill="#1a1a1a" transform="rotate(-90 425.4 85.5)" stroke="#1a1a1a" stroke-width="0.14">Tail  bleeding time (s)</text>
<text x="465.9" y="140.2" font-size="6.8" text-anchor="middle" fill="#1a1a1a" stroke="#1a1a1a" stroke-width="0.12">α9<tspan font-size="4.9" dy="-3.13">fl/fl</tspan></text>
<text x="493.4" y="140.2" font-size="6.8" text-anchor="middle" fill="#1a1a1a" stroke="#1a1a1a" stroke-width="0.12">α9<tspan font-size="4.9" dy="-3.13">fl/fl</tspan></text>
<text x="493.3" y="149" font-size="6.8" text-anchor="middle" textLength="28.5" lengthAdjust="spacingAndGlyphs" fill="#1a1a1a" stroke="#1a1a1a" stroke-width="0.12">LysMCre<tspan font-size="4.9" dy="-3.13">+</tspan></text>
<text x="7.4" y="184.3" font-size="12.3" font-weight="bold" fill="#000" stroke="#000" stroke-width="0.45">D</text>
<line x1="61.2" y1="205" x2="61.2" y2="296" stroke="#111" stroke-width="1.3"/>
<line x1="58.6" y1="208" x2="61.2" y2="208" stroke="#111" stroke-width="1.3"/>
<text x="55.6" y="210.628" font-size="7.3" text-anchor="end" textLength="7.31" lengthAdjust="spacingAndGlyphs" fill="#1a1a1a" stroke="#1a1a1a" stroke-width="0.12">40</text>
<line x1="58.6" y1="229.9" x2="61.2" y2="229.9" stroke="#111" stroke-width="1.3"/>
<text x="55.6" y="232.528" font-size="7.3" text-anchor="end" textLength="7.31" lengthAdjust="spacingAndGlyphs" fill="#1a1a1a" stroke="#1a1a1a" stroke-width="0.12">30</text>
<line x1="58.6" y1="251.8" x2="61.2" y2="251.8" stroke="#111" stroke-width="1.3"/>
<text x="55.6" y="254.428" font-size="7.3" text-anchor="end" textLength="7.31" lengthAdjust="spacingAndGlyphs" fill="#1a1a1a" stroke="#1a1a1a" stroke-width="0.12">20</text>
<line x1="58.6" y1="273.6" x2="61.2" y2="273.6" stroke="#111" stroke-width="1.3"/>
<text x="55.6" y="276.228" font-size="7.3" text-anchor="end" textLength="7.31" lengthAdjust="spacingAndGlyphs" fill="#1a1a1a" stroke="#1a1a1a" stroke-width="0.12">10</text>
<line x1="58.6" y1="295.5" x2="61.2" y2="295.5" stroke="#111" stroke-width="1.3"/>
<text x="55.6" y="298.128" font-size="7.3" text-anchor="end" textLength="3.65" lengthAdjust="spacingAndGlyphs" fill="#1a1a1a" stroke="#1a1a1a" stroke-width="0.12">0</text>
<line x1="58.8" y1="295.5" x2="120" y2="295.5" stroke="#111" stroke-width="1.3"/>
<path d="M65.20 294.95V267.50H79.80V294.95" fill="none" stroke="#c4163f" stroke-width="1.1"/>
<path d="M87.80 294.95V280.80H102.40V294.95" fill="none" stroke="#2f4f92" stroke-width="1.1"/>
<line x1="72.5" y1="259.8" x2="72.5" y2="274.8" stroke="#111" stroke-width="1.0"/>
<line x1="69.3" y1="259.8" x2="75.7" y2="259.8" stroke="#111" stroke-width="1.0"/>
<line x1="69.3" y1="274.8" x2="75.7" y2="274.8" stroke="#111" stroke-width="1.0"/>
<line x1="95.4" y1="277.4" x2="95.4" y2="283.8" stroke="#111" stroke-width="1.0"/>
<line x1="92.2" y1="277.4" x2="98.60000000000001" y2="277.4" stroke="#111" stroke-width="1.0"/>
<line x1="92.2" y1="283.8" x2="98.60000000000001" y2="283.8" stroke="#111" stroke-width="1.0"/>
<circle cx="72.50" cy="232.00" r="1.7" fill="#b3002d"/>
<circle cx="66.30" cy="271.30" r="1.7" fill="#b3002d"/>
<circle cx="79.50" cy="271.30" r="1.7" fill="#b3002d"/>
<circle cx="71.30" cy="273.30" r="1.7" fill="#b3002d"/>
<circle cx="75.80" cy="273.30" r="1.7" fill="#b3002d"/>
<circle cx="72.50" cy="284.50" r="1.7" fill="#b3002d"/>
<rect x="94.25" y="265.45" width="3.1" height="3.1" fill="#17387d"/>
<rect x="94.25" y="273.05" width="3.1" height="3.1" fill="#17387d"/>
<rect x="91.45" y="277.25" width="3.1" height="3.1" fill="#17387d"/>
<rect x="97.05" y="277.25" width="3.1" height="3.1" fill="#17387d"/>
<rect x="92.25" y="281.45" width="3.1" height="3.1" fill="#17387d"/>
<rect x="95.85" y="281.05" width="3.1" height="3.1" fill="#17387d"/>
<rect x="91.25" y="285.65" width="3.1" height="3.1" fill="#17387d"/>
<rect x="97.05" y="285.45" width="3.1" height="3.1" fill="#17387d"/>
<rect x="94.65" y="289.45" width="3.1" height="3.1" fill="#17387d"/>
<text x="83" y="211.6" font-size="5.7" text-anchor="middle" textLength="17.6" lengthAdjust="spacingAndGlyphs" fill="#1a1a1a">P&lt;0.05</text>
<line x1="70" y1="214.5" x2="96.2" y2="214.5" stroke="#2a2a2a" stroke-width="1.3"/>
<text x="42.7" y="250" font-size="8.8" text-anchor="middle" textLength="75" lengthAdjust="spacingAndGlyphs" fill="#1a1a1a" transform="rotate(-90 42.7 250)" stroke="#1a1a1a" stroke-width="0.14">MPO (ng/mg of protein)</text>
<text x="72.3" y="305.4" font-size="6.8" text-anchor="middle" fill="#1a1a1a" stroke="#1a1a1a" stroke-width="0.12">α9<tspan font-size="4.9" dy="-3.13">fl/fl</tspan></text>
<text x="95.2" y="305.4" font-size="6.8" text-anchor="middle" fill="#1a1a1a" stroke="#1a1a1a" stroke-width="0.12">α9<tspan font-size="4.9" dy="-3.13">fl/fl</tspan></text>
<text x="95.4" y="313.8" font-size="6.8" text-anchor="middle" textLength="28.5" lengthAdjust="spacingAndGlyphs" fill="#1a1a1a" stroke="#1a1a1a" stroke-width="0.12">LysMCre<tspan font-size="4.9" dy="-3.13">+</tspan></text>
<text x="137.1" y="184.3" font-size="12.3" textLength="7.4" lengthAdjust="spacingAndGlyphs" font-weight="bold" fill="#000" stroke="#000" stroke-width="0.45">E</text>
<rect x="150.20" y="186.80" width="257.80" height="127.40" fill="#000"/>
<g filter="url(#b04)">
<circle cx="182.62" cy="246.60" r="0.4" fill="#2a22c0"/>
<circle cx="159.06" cy="203.16" r="0.4" fill="#2a22c0"/>
<circle cx="190.39" cy="245.53" r="0.4" fill="#2a22c0"/>
<circle cx="183.59" cy="246.21" r="0.6" fill="#2420b0"/>
<circle cx="158.01" cy="238.70" r="0.6" fill="#2420b0"/>
<circle cx="207.37" cy="227.37" r="0.5" fill="#1a1ac8"/>
<circle cx="153.80" cy="224.63" r="0.6" fill="#2a22c0"/>
<circle cx="156.55" cy="228.72" r="0.4" fill="#2420b0"/>
<circle cx="206.75" cy="226.00" r="0.5" fill="#2a22c0"/>
<circle cx="156.30" cy="233.13" r="0.6" fill="#2a22c0"/>
<circle cx="158.46" cy="206.89" r="0.6" fill="#1a1ac8"/>
<circle cx="168.02" cy="196.67" r="0.5" fill="#2420b0"/>
<circle cx="208.57" cy="213.68" r="0.6" fill="#2420b0"/>
<circle cx="177.72" cy="246.71" r="0.5" fill="#a05a90"/>
<circle cx="204.31" cy="234.74" r="0.5" fill="#8a40a8"/>
<circle cx="199.16" cy="200.91" r="0.4" fill="#1a1ac8"/>
<circle cx="161.52" cy="238.42" r="0.4" fill="#15159c"/>
<circle cx="170.73" cy="245.07" r="0.6" fill="#1a1ac8"/>
<circle cx="207.99" cy="225.47" r="0.4" fill="#15159c"/>
<circle cx="208.94" cy="216.40" r="0.4" fill="#15159c"/>
<circle cx="201.95" cy="203.80" r="0.6" fill="#2a22c0"/>
<circle cx="168.68" cy="194.26" r="0.6" fill="#1a1ac8"/>
<circle cx="177.06" cy="246.31" r="0.5" fill="#15159c"/>
<circle cx="154.42" cy="216.50" r="0.6" fill="#8a40a8"/>
<circle cx="170.04" cy="244.46" r="0.5" fill="#a05a90"/>
<circle cx="152.70" cy="226.01" r="0.5" fill="#15159c"/>
<circle cx="178.50" cy="192.13" r="0.5" fill="#1a1ac8"/>
<circle cx="161.42" cy="200.09" r="0.5" fill="#15159c"/>
<circle cx="193.05" cy="245.38" r="0.5" fill="#15159c"/>
<circle cx="203.65" cy="237.85" r="0.6" fill="#1a1ac8"/>
<circle cx="178.06" cy="192.78" r="0.4" fill="#15159c"/>
<circle cx="168.26" cy="194.58" r="0.5" fill="#1a1ac8"/>
<circle cx="206.50" cy="211.43" r="0.6" fill="#2420b0"/>
<circle cx="164.78" cy="198.16" r="0.4" fill="#2a22c0"/>
<circle cx="208.40" cy="226.01" r="0.5" fill="#2420b0"/>
<circle cx="190.23" cy="194.38" r="0.5" fill="#1a1ac8"/>
<circle cx="158.15" cy="205.85" r="0.6" fill="#15159c"/>
<circle cx="156.18" cy="234.05" r="0.4" fill="#2a22c0"/>
<circle cx="204.88" cy="206.77" r="0.6" fill="#2a22c0"/>
<circle cx="185.43" cy="247.26" r="0.6" fill="#2a22c0"/>
<circle cx="180.24" cy="191.18" r="0.6" fill="#2420b0"/>
<circle cx="207.46" cy="215.04" r="0.4" fill="#1a1ac8"/>
<circle cx="207.91" cy="226.13" r="0.5" fill="#2420b0"/>
<circle cx="157.17" cy="207.70" r="0.4" fill="#1a1ac8"/>
<circle cx="193.40" cy="243.94" r="0.4" fill="#a05a90"/>
<circle cx="164.85" cy="244.35" r="0.6" fill="#15159c"/>
<circle cx="153.10" cy="223.97" r="0.4" fill="#2420b0"/>
<circle cx="193.27" cy="243.49" r="0.4" fill="#15159c"/>
<circle cx="193.52" cy="194.03" r="0.4" fill="#8a40a8"/>
<circle cx="177.38" cy="247.48" r="0.4" fill="#8a40a8"/>
<circle cx="197.82" cy="198.37" r="0.6" fill="#6a2ab0"/>
<circle cx="204.00" cy="234.06" r="0.5" fill="#2a22c0"/>
<circle cx="204.77" cy="231.70" r="0.4" fill="#15159c"/>
<circle cx="208.77" cy="217.88" r="0.6" fill="#2a22c0"/>
<circle cx="207.89" cy="220.60" r="0.6" fill="#8a40a8"/>
<circle cx="165.44" cy="199.07" r="0.4" fill="#2a22c0"/>
<circle cx="161.46" cy="201.35" r="0.5" fill="#2a22c0"/>
<circle cx="156.02" cy="233.41" r="0.4" fill="#2a22c0"/>
<circle cx="185.97" cy="246.90" r="0.4" fill="#2a22c0"/>
<circle cx="201.64" cy="200.16" r="0.6" fill="#15159c"/>
<circle cx="187.60" cy="193.39" r="0.6" fill="#1a1ac8"/>
<circle cx="165.56" cy="195.54" r="0.6" fill="#2a22c0"/>
<circle cx="169.85" cy="243.46" r="0.4" fill="#1a1ac8"/>
<circle cx="184.74" cy="193.08" r="0.6" fill="#1a1ac8"/>
<circle cx="203.37" cy="236.39" r="0.4" fill="#1a1ac8"/>
<circle cx="207.42" cy="224.33" r="0.6" fill="#1a1ac8"/>
<circle cx="205.47" cy="212.33" r="0.6" fill="#1a1ac8"/>
<circle cx="153.92" cy="218.10" r="0.6" fill="#2420b0"/>
<circle cx="201.97" cy="235.51" r="0.4" fill="#2420b0"/>
<circle cx="207.78" cy="219.72" r="0.6" fill="#2420b0"/>
<circle cx="181.20" cy="193.16" r="0.6" fill="#2a22c0"/>
<circle cx="156.05" cy="233.86" r="0.4" fill="#1a1ac8"/>
<circle cx="206.41" cy="215.59" r="0.6" fill="#2420b0"/>
<circle cx="181.69" cy="191.56" r="0.5" fill="#2a22c0"/>
<circle cx="202.87" cy="203.26" r="0.6" fill="#2a22c0"/>
<circle cx="207.23" cy="211.47" r="0.4" fill="#2420b0"/>
<circle cx="195.90" cy="240.12" r="0.5" fill="#15159c"/>
<circle cx="157.98" cy="204.58" r="0.5" fill="#15159c"/>
<circle cx="206.95" cy="223.86" r="0.4" fill="#2420b0"/>
<circle cx="168.47" cy="244.93" r="0.6" fill="#2420b0"/>
<circle cx="154.13" cy="223.41" r="0.6" fill="#1a1ac8"/>
<circle cx="204.81" cy="231.84" r="0.4" fill="#2a22c0"/>
<circle cx="153.49" cy="225.63" r="0.5" fill="#1a1ac8"/>
<circle cx="182.01" cy="248.29" r="0.4" fill="#2420b0"/>
<circle cx="191.00" cy="244.97" r="0.4" fill="#15159c"/>
<circle cx="170.63" cy="243.69" r="0.4" fill="#2a22c0"/>
<circle cx="200.81" cy="238.50" r="0.6" fill="#1a1ac8"/>
<circle cx="177.63" cy="190.34" r="0.5" fill="#8a40a8"/>
<circle cx="155.82" cy="230.50" r="0.6" fill="#2a22c0"/>
<circle cx="169.01" cy="245.12" r="0.5" fill="#15159c"/>
<circle cx="202.85" cy="239.01" r="0.6" fill="#1a1ac8"/>
<circle cx="162.18" cy="238.60" r="0.5" fill="#15159c"/>
<circle cx="166.84" cy="197.42" r="0.5" fill="#15159c"/>
<circle cx="168.72" cy="197.44" r="0.6" fill="#1a1ac8"/>
<circle cx="164.26" cy="241.87" r="0.6" fill="#2420b0"/>
<circle cx="162.82" cy="200.86" r="0.6" fill="#2420b0"/>
<circle cx="153.18" cy="228.11" r="0.6" fill="#15159c"/>
<circle cx="157.35" cy="203.68" r="0.5" fill="#15159c"/>
<circle cx="152.86" cy="223.09" r="0.6" fill="#1a1ac8"/>
<circle cx="155.48" cy="213.02" r="0.5" fill="#2a22c0"/>
<circle cx="176.93" cy="247.87" r="0.4" fill="#2a22c0"/>
<circle cx="171.26" cy="193.84" r="0.5" fill="#15159c"/>
<circle cx="154.32" cy="228.86" r="0.4" fill="#2a22c0"/>
<circle cx="196.40" cy="242.20" r="0.6" fill="#1a1ac8"/>
<circle cx="185.58" cy="192.95" r="0.6" fill="#2420b0"/>
<circle cx="179.47" cy="193.06" r="0.4" fill="#2420b0"/>
<circle cx="198.37" cy="198.39" r="0.4" fill="#2420b0"/>
<circle cx="198.50" cy="200.59" r="0.4" fill="#15159c"/>
<circle cx="195.20" cy="197.72" r="0.6" fill="#2a22c0"/>
<circle cx="170.38" cy="246.01" r="0.6" fill="#2a22c0"/>
<circle cx="172.91" cy="192.27" r="0.6" fill="#1a1ac8"/>
<circle cx="162.83" cy="200.08" r="0.6" fill="#1a1ac8"/>
<circle cx="183.47" cy="248.10" r="0.6" fill="#2420b0"/>
<circle cx="187.44" cy="248.02" r="0.5" fill="#2a22c0"/>
<circle cx="207.70" cy="212.86" r="0.4" fill="#1a1ac8"/>
<circle cx="207.51" cy="224.35" r="0.5" fill="#2420b0"/>
<circle cx="153.04" cy="213.13" r="0.4" fill="#15159c"/>
<circle cx="204.41" cy="233.19" r="0.6" fill="#1a1ac8"/>
<circle cx="208.86" cy="218.96" r="0.5" fill="#1a1ac8"/>
<circle cx="171.91" cy="193.81" r="0.4" fill="#2420b0"/>
<circle cx="186.57" cy="194.72" r="0.5" fill="#2420b0"/>
<circle cx="171.62" cy="192.79" r="0.5" fill="#2a22c0"/>
<circle cx="171.86" cy="244.44" r="0.5" fill="#2a22c0"/>
<circle cx="203.17" cy="203.47" r="0.5" fill="#15159c"/>
<circle cx="155.09" cy="228.69" r="0.5" fill="#1a1ac8"/>
<circle cx="186.47" cy="192.24" r="0.6" fill="#2420b0"/>
<circle cx="189.95" cy="246.13" r="0.6" fill="#2a22c0"/>
<circle cx="208.37" cy="224.84" r="0.5" fill="#1a1ac8"/>
<circle cx="152.85" cy="221.70" r="0.4" fill="#2a22c0"/>
<circle cx="172.62" cy="193.50" r="0.4" fill="#1a1ac8"/>
<circle cx="156.58" cy="238.24" r="0.5" fill="#2420b0"/>
<circle cx="152.92" cy="224.46" r="0.4" fill="#2420b0"/>
<circle cx="164.76" cy="242.89" r="0.5" fill="#15159c"/>
<circle cx="187.40" cy="193.01" r="0.6" fill="#15159c"/>
<circle cx="177.81" cy="248.02" r="0.4" fill="#15159c"/>
<circle cx="169.76" cy="196.03" r="0.4" fill="#1a1ac8"/>
<circle cx="202.37" cy="236.84" r="0.4" fill="#1a1ac8"/>
<circle cx="165.09" cy="197.39" r="0.5" fill="#15159c"/>
<circle cx="166.31" cy="242.53" r="0.6" fill="#1a1ac8"/>
<circle cx="161.81" cy="199.61" r="0.5" fill="#2a22c0"/>
<circle cx="191.29" cy="244.34" r="0.5" fill="#15159c"/>
<circle cx="193.47" cy="245.11" r="0.6" fill="#2a22c0"/>
<circle cx="162.65" cy="241.91" r="0.6" fill="#2a22c0"/>
<circle cx="151.57" cy="223.55" r="0.6" fill="#15159c"/>
<circle cx="175.76" cy="194.09" r="0.4" fill="#2a22c0"/>
<circle cx="195.72" cy="241.92" r="0.4" fill="#1a1ac8"/>
<circle cx="182.05" cy="192.64" r="0.6" fill="#2420b0"/>
<circle cx="206.10" cy="229.44" r="0.6" fill="#1a1ac8"/>
<circle cx="163.87" cy="197.98" r="0.4" fill="#2420b0"/>
<circle cx="166.04" cy="243.44" r="0.4" fill="#15159c"/>
<circle cx="192.82" cy="194.83" r="0.4" fill="#2420b0"/>
<circle cx="155.62" cy="205.11" r="0.5" fill="#1a1ac8"/>
<circle cx="207.85" cy="214.31" r="0.6" fill="#2a22c0"/>
<circle cx="168.49" cy="246.20" r="0.6" fill="#2420b0"/>
<circle cx="205.05" cy="233.27" r="0.4" fill="#1a1ac8"/>
<circle cx="189.12" cy="245.80" r="0.5" fill="#15159c"/>
<circle cx="157.80" cy="236.75" r="0.6" fill="#1a1ac8"/>
<circle cx="198.78" cy="201.05" r="0.6" fill="#15159c"/>
<circle cx="153.22" cy="229.74" r="0.4" fill="#2a22c0"/>
<circle cx="201.99" cy="239.32" r="0.6" fill="#1a1ac8"/>
<circle cx="163.59" cy="198.72" r="0.6" fill="#1a1ac8"/>
<circle cx="178.01" cy="191.97" r="0.4" fill="#2a22c0"/>
<circle cx="158.72" cy="202.84" r="0.5" fill="#1a1ac8"/>
<circle cx="154.16" cy="230.66" r="0.4" fill="#15159c"/>
<circle cx="180.52" cy="192.21" r="0.6" fill="#2a22c0"/>
<circle cx="197.59" cy="197.39" r="0.6" fill="#15159c"/>
<circle cx="205.20" cy="211.94" r="0.6" fill="#2a22c0"/>
<circle cx="204.96" cy="206.67" r="0.4" fill="#15159c"/>
<circle cx="192.15" cy="246.51" r="0.4" fill="#15159c"/>
<circle cx="162.33" cy="198.12" r="0.4" fill="#1a1ac8"/>
<circle cx="176.25" cy="246.41" r="0.5" fill="#2420b0"/>
<circle cx="198.03" cy="241.89" r="0.5" fill="#2a22c0"/>
<circle cx="154.40" cy="229.65" r="0.6" fill="#15159c"/>
<circle cx="160.61" cy="240.61" r="0.5" fill="#2420b0"/>
<circle cx="152.66" cy="224.59" r="0.5" fill="#15159c"/>
<circle cx="161.27" cy="239.70" r="0.5" fill="#15159c"/>
<circle cx="180.15" cy="191.31" r="0.6" fill="#1a1ac8"/>
<circle cx="196.64" cy="241.82" r="0.4" fill="#1a1ac8"/>
<circle cx="209.96" cy="220.36" r="0.5" fill="#15159c"/>
<circle cx="207.79" cy="216.43" r="0.4" fill="#1a1ac8"/>
<circle cx="207.28" cy="222.22" r="0.4" fill="#1a1ac8"/>
<circle cx="153.99" cy="228.64" r="0.5" fill="#15159c"/>
<circle cx="156.58" cy="233.56" r="0.4" fill="#a05a90"/>
<circle cx="204.39" cy="205.43" r="0.6" fill="#2420b0"/>
<circle cx="182.06" cy="192.15" r="0.5" fill="#15159c"/>
<circle cx="206.90" cy="222.76" r="0.4" fill="#a05a90"/>
<circle cx="203.36" cy="202.79" r="0.6" fill="#2a22c0"/>
<circle cx="193.48" cy="243.70" r="0.4" fill="#2420b0"/>
<circle cx="207.19" cy="218.68" r="0.5" fill="#15159c"/>
<circle cx="189.52" cy="194.20" r="0.6" fill="#2a22c0"/>
<circle cx="195.80" cy="242.46" r="0.4" fill="#2a22c0"/>
<circle cx="194.05" cy="194.63" r="0.6" fill="#a05a90"/>
<circle cx="155.11" cy="211.76" r="0.6" fill="#15159c"/>
<circle cx="205.18" cy="232.69" r="0.6" fill="#1a1ac8"/>
<circle cx="154.80" cy="228.77" r="0.5" fill="#2a22c0"/>
<circle cx="169.10" cy="246.03" r="0.4" fill="#15159c"/>
<circle cx="206.11" cy="210.60" r="0.5" fill="#8a40a8"/>
<circle cx="156.21" cy="234.77" r="0.4" fill="#1a1ac8"/>
<circle cx="178.44" cy="192.64" r="0.4" fill="#1a1ac8"/>
<circle cx="205.96" cy="210.35" r="0.5" fill="#1a1ac8"/>
<circle cx="154.10" cy="226.49" r="0.4" fill="#2420b0"/>
<circle cx="198.39" cy="242.70" r="0.5" fill="#2420b0"/>
<circle cx="168.16" cy="195.74" r="0.6" fill="#1a1ac8"/>
<circle cx="192.75" cy="244.29" r="0.4" fill="#2420b0"/>
<circle cx="201.81" cy="198.74" r="0.4" fill="#2420b0"/>
<circle cx="154.69" cy="231.55" r="0.5" fill="#2420b0"/>
<circle cx="202.96" cy="237.23" r="0.6" fill="#2a22c0"/>
<circle cx="205.53" cy="233.09" r="0.4" fill="#8a40a8"/>
<circle cx="208.00" cy="216.52" r="0.5" fill="#2a22c0"/>
<circle cx="152.48" cy="224.87" r="0.5" fill="#15159c"/>
<circle cx="156.64" cy="208.93" r="0.5" fill="#2a22c0"/>
<circle cx="194.48" cy="195.83" r="0.5" fill="#2420b0"/>
<circle cx="206.11" cy="208.54" r="0.4" fill="#2420b0"/>
<circle cx="199.09" cy="239.79" r="0.4" fill="#1a1ac8"/>
<circle cx="202.86" cy="239.52" r="0.6" fill="#2a22c0"/>
<circle cx="161.06" cy="239.74" r="0.6" fill="#15159c"/>
<circle cx="157.02" cy="206.87" r="0.6" fill="#2420b0"/>
<circle cx="154.09" cy="208.79" r="0.6" fill="#15159c"/>
<circle cx="156.50" cy="202.25" r="0.5" fill="#15159c"/>
<circle cx="177.22" cy="247.10" r="0.4" fill="#1a1ac8"/>
<circle cx="177.61" cy="193.35" r="0.5" fill="#15159c"/>
<circle cx="153.04" cy="228.40" r="0.4" fill="#2a22c0"/>
<circle cx="207.04" cy="217.76" r="0.6" fill="#8a40a8"/>
<circle cx="196.36" cy="197.57" r="0.5" fill="#8a40a8"/>
<circle cx="187.52" cy="247.82" r="0.4" fill="#1a1ac8"/>
<circle cx="155.05" cy="231.81" r="0.5" fill="#2a22c0"/>
<circle cx="207.46" cy="222.01" r="0.6" fill="#2a22c0"/>
<circle cx="169.42" cy="194.01" r="0.4" fill="#1a1ac8"/>
<circle cx="168.16" cy="245.05" r="0.4" fill="#1a1ac8"/>
<circle cx="187.61" cy="246.69" r="0.4" fill="#2a22c0"/>
<circle cx="154.00" cy="208.00" r="0.6" fill="#9a4ad0"/>
<circle cx="155.40" cy="213.00" r="0.6" fill="#7a3ad8"/>
<circle cx="154.60" cy="219.00" r="0.6" fill="#7a3ad8"/>
<circle cx="156.60" cy="224.00" r="0.6" fill="#c070b0"/>
<circle cx="158.40" cy="229.00" r="0.6" fill="#7a3ad8"/>
<circle cx="160.00" cy="233.00" r="0.6" fill="#c070b0"/>
<circle cx="170.00" cy="240.00" r="0.6" fill="#7a3ad8"/>
<circle cx="183.00" cy="244.60" r="0.6" fill="#c070b0"/>
<circle cx="186.00" cy="246.00" r="0.6" fill="#7a3ad8"/>
<circle cx="190.00" cy="246.40" r="0.6" fill="#9a4ad0"/>
<circle cx="188.00" cy="208.00" r="0.6" fill="#c070b0"/>
<circle cx="197.00" cy="214.00" r="0.6" fill="#c070b0"/>
<circle cx="159.80" cy="232.60" r="0.9" fill="#e0b0a0"/>
<circle cx="154.12" cy="209.15" r="0.55" fill="#7a30c8"/>
<circle cx="154.80" cy="211.18" r="0.55" fill="#3a2ae0"/>
<circle cx="156.16" cy="213.22" r="0.55" fill="#a048b0"/>
<circle cx="154.52" cy="215.94" r="0.55" fill="#3a2ae0"/>
<circle cx="155.48" cy="218.66" r="0.55" fill="#a048b0"/>
<circle cx="156.84" cy="220.70" r="0.55" fill="#5a28d0"/>
<circle cx="157.51" cy="224.78" r="0.55" fill="#5a28d0"/>
<circle cx="158.87" cy="228.86" r="0.55" fill="#a048b0"/>
<circle cx="161.59" cy="235.65" r="0.55" fill="#7a30c8"/>
<circle cx="164.99" cy="226.82" r="0.55" fill="#a048b0"/>
<circle cx="169.75" cy="228.18" r="0.55" fill="#7a30c8"/>
<circle cx="172.47" cy="230.89" r="0.55" fill="#3a2ae0"/>
<circle cx="180.62" cy="239.73" r="0.55" fill="#7a30c8"/>
<circle cx="181.98" cy="243.81" r="0.55" fill="#5a28d0"/>
<circle cx="184.02" cy="245.85" r="0.55" fill="#3a2ae0"/>
<circle cx="187.42" cy="245.17" r="0.55" fill="#7a30c8"/>
<circle cx="190.14" cy="245.85" r="0.55" fill="#3a2ae0"/>
<circle cx="192.18" cy="243.81" r="0.55" fill="#a048b0"/>
<circle cx="184.70" cy="241.09" r="0.55" fill="#3a2ae0"/>
<circle cx="153.44" cy="207.11" r="0.55" fill="#5a28d0"/>
<circle cx="155.88" cy="209.83" r="0.55" fill="#a048b0"/>
<circle cx="155.07" cy="214.58" r="0.55" fill="#3a2ae0"/>
<circle cx="156.43" cy="217.30" r="0.55" fill="#a048b0"/>
<circle cx="155.31" cy="281.67" r="0.45" fill="#15159c"/>
<circle cx="175.05" cy="309.32" r="0.38" fill="#1a1ac8"/>
<circle cx="155.76" cy="292.84" r="0.38" fill="#1a1ac8"/>
<circle cx="170.45" cy="304.20" r="0.55" fill="#2020a0"/>
<circle cx="203.48" cy="267.26" r="0.55" fill="#2020a0"/>
<circle cx="185.51" cy="308.49" r="0.38" fill="#15159c"/>
<circle cx="164.94" cy="262.39" r="0.55" fill="#1a1ac8"/>
<circle cx="154.39" cy="279.65" r="0.38" fill="#1a1ac8"/>
<circle cx="184.36" cy="307.59" r="0.45" fill="#2020a0"/>
<circle cx="166.00" cy="305.40" r="0.55" fill="#2020a0"/>
<circle cx="208.34" cy="277.09" r="0.55" fill="#15159c"/>
<circle cx="197.76" cy="286.67" r="0.45" fill="#2420b0"/>
<circle cx="191.86" cy="298.04" r="0.45" fill="#1a1ac8"/>
<circle cx="205.08" cy="274.97" r="0.38" fill="#2420b0"/>
<circle cx="168.69" cy="306.55" r="0.38" fill="#1a1ac8"/>
<circle cx="157.51" cy="299.70" r="0.38" fill="#2020a0"/>
<circle cx="201.58" cy="281.66" r="0.45" fill="#2420b0"/>
<circle cx="155.43" cy="292.87" r="0.38" fill="#2420b0"/>
<circle cx="153.71" cy="286.32" r="0.55" fill="#15159c"/>
<circle cx="184.74" cy="310.94" r="0.55" fill="#2020a0"/>
<circle cx="155.92" cy="277.36" r="0.45" fill="#2020a0"/>
<circle cx="203.32" cy="278.38" r="0.45" fill="#2420b0"/>
<circle cx="155.19" cy="280.40" r="0.55" fill="#2020a0"/>
<circle cx="209.44" cy="281.19" r="0.45" fill="#15159c"/>
<circle cx="208.39" cy="282.79" r="0.45" fill="#2020a0"/>
<circle cx="199.64" cy="263.88" r="0.55" fill="#2420b0"/>
<circle cx="169.72" cy="306.66" r="0.45" fill="#15159c"/>
<circle cx="162.28" cy="264.32" r="0.45" fill="#2420b0"/>
<circle cx="161.47" cy="302.48" r="0.55" fill="#2420b0"/>
<circle cx="202.06" cy="279.50" r="0.55" fill="#15159c"/>
<circle cx="170.08" cy="305.22" r="0.38" fill="#15159c"/>
<circle cx="156.12" cy="296.11" r="0.45" fill="#15159c"/>
<circle cx="154.90" cy="286.88" r="0.55" fill="#2420b0"/>
<circle cx="195.21" cy="261.29" r="0.45" fill="#1a1ac8"/>
<circle cx="156.18" cy="275.06" r="0.55" fill="#2420b0"/>
<circle cx="158.73" cy="300.33" r="0.45" fill="#2420b0"/>
<circle cx="156.47" cy="275.35" r="0.55" fill="#2020a0"/>
<circle cx="190.09" cy="309.34" r="0.38" fill="#2420b0"/>
<circle cx="204.24" cy="275.71" r="0.45" fill="#1a1ac8"/>
<circle cx="176.98" cy="309.06" r="0.38" fill="#15159c"/>
<circle cx="208.78" cy="273.57" r="0.45" fill="#2020a0"/>
<circle cx="154.89" cy="294.57" r="0.45" fill="#15159c"/>
<circle cx="208.72" cy="277.33" r="0.55" fill="#2420b0"/>
<circle cx="186.35" cy="310.20" r="0.45" fill="#15159c"/>
<circle cx="178.61" cy="257.30" r="0.38" fill="#2420b0"/>
<circle cx="185.70" cy="308.95" r="0.45" fill="#2020a0"/>
<circle cx="207.90" cy="279.45" r="0.38" fill="#2420b0"/>
<circle cx="167.11" cy="259.76" r="0.55" fill="#15159c"/>
<circle cx="195.82" cy="289.70" r="0.45" fill="#2020a0"/>
<circle cx="173.91" cy="307.99" r="0.55" fill="#15159c"/>
<circle cx="203.96" cy="268.27" r="0.55" fill="#2020a0"/>
<circle cx="209.20" cy="283.74" r="0.55" fill="#2420b0"/>
<circle cx="177.81" cy="257.36" r="0.45" fill="#15159c"/>
<circle cx="198.55" cy="285.06" r="0.38" fill="#2420b0"/>
<circle cx="197.11" cy="288.47" r="0.55" fill="#15159c"/>
<circle cx="192.20" cy="260.11" r="0.45" fill="#2420b0"/>
<circle cx="189.89" cy="299.79" r="0.55" fill="#2020a0"/>
<circle cx="155.04" cy="290.64" r="0.45" fill="#2020a0"/>
<circle cx="200.80" cy="282.11" r="0.55" fill="#15159c"/>
<circle cx="177.42" cy="257.73" r="0.38" fill="#15159c"/>
<circle cx="198.25" cy="287.60" r="0.45" fill="#2420b0"/>
<circle cx="155.80" cy="290.99" r="0.45" fill="#1a1ac8"/>
<circle cx="187.63" cy="309.36" r="0.45" fill="#2020a0"/>
<circle cx="209.61" cy="280.34" r="0.55" fill="#1a1ac8"/>
<circle cx="167.71" cy="260.99" r="0.38" fill="#2020a0"/>
<circle cx="157.77" cy="269.57" r="0.38" fill="#2420b0"/>
<circle cx="156.45" cy="290.52" r="0.55" fill="#2020a0"/>
<circle cx="203.48" cy="268.02" r="0.55" fill="#2420b0"/>
<circle cx="158.90" cy="270.64" r="0.45" fill="#2420b0"/>
<circle cx="155.31" cy="283.48" r="0.45" fill="#1a1ac8"/>
<circle cx="205.08" cy="272.43" r="0.55" fill="#2020a0"/>
<circle cx="207.23" cy="272.43" r="0.38" fill="#15159c"/>
<circle cx="202.44" cy="280.32" r="0.45" fill="#1a1ac8"/>
<circle cx="161.77" cy="265.65" r="0.55" fill="#1a1ac8"/>
<circle cx="154.19" cy="282.17" r="0.55" fill="#15159c"/>
<circle cx="173.60" cy="308.42" r="0.45" fill="#2020a0"/>
<circle cx="172.98" cy="308.05" r="0.45" fill="#1a1ac8"/>
<circle cx="208.78" cy="277.60" r="0.38" fill="#1a1ac8"/>
<circle cx="208.44" cy="277.65" r="0.55" fill="#2020a0"/>
<circle cx="181.23" cy="257.15" r="0.55" fill="#2420b0"/>
<circle cx="204.13" cy="276.08" r="0.55" fill="#15159c"/>
<circle cx="154.08" cy="283.54" r="0.45" fill="#1a1ac8"/>
<circle cx="168.18" cy="261.66" r="0.45" fill="#2020a0"/>
<circle cx="165.47" cy="306.30" r="0.45" fill="#1a1ac8"/>
<circle cx="172.10" cy="307.88" r="0.55" fill="#2020a0"/>
<circle cx="180.37" cy="308.78" r="0.38" fill="#15159c"/>
<circle cx="165.47" cy="262.49" r="0.38" fill="#2020a0"/>
<circle cx="176.76" cy="260.21" r="0.55" fill="#1a1ac8"/>
<circle cx="183.23" cy="308.37" r="0.45" fill="#2420b0"/>
<circle cx="190.12" cy="301.39" r="0.45" fill="#15159c"/>
<circle cx="201.38" cy="266.66" r="0.38" fill="#2020a0"/>
<circle cx="163.60" cy="302.81" r="0.45" fill="#2020a0"/>
<circle cx="203.41" cy="269.26" r="0.38" fill="#2420b0"/>
<circle cx="201.97" cy="265.10" r="0.55" fill="#1a1ac8"/>
<circle cx="157.35" cy="297.33" r="0.45" fill="#2020a0"/>
<circle cx="155.33" cy="286.93" r="0.55" fill="#2020a0"/>
<circle cx="202.03" cy="281.40" r="0.38" fill="#1a1ac8"/>
<circle cx="159.91" cy="299.11" r="0.38" fill="#1a1ac8"/>
<circle cx="199.53" cy="286.78" r="0.38" fill="#2420b0"/>
<circle cx="187.56" cy="309.57" r="0.45" fill="#2020a0"/>
<circle cx="171.30" cy="305.53" r="0.55" fill="#15159c"/>
<circle cx="205.83" cy="274.08" r="0.45" fill="#1a1ac8"/>
<circle cx="204.72" cy="276.97" r="0.45" fill="#1a1ac8"/>
<circle cx="156.42" cy="274.37" r="0.55" fill="#2420b0"/>
<circle cx="188.77" cy="308.57" r="0.38" fill="#15159c"/>
<circle cx="206.61" cy="273.03" r="0.55" fill="#15159c"/>
<circle cx="191.28" cy="300.11" r="0.45" fill="#1a1ac8"/>
<circle cx="157.21" cy="294.83" r="0.55" fill="#1a1ac8"/>
<circle cx="204.15" cy="268.88" r="0.45" fill="#2420b0"/>
<circle cx="206.51" cy="271.00" r="0.45" fill="#15159c"/>
<circle cx="166.65" cy="259.82" r="0.55" fill="#2020a0"/>
<circle cx="165.32" cy="306.00" r="0.45" fill="#2420b0"/>
<circle cx="181.03" cy="257.87" r="0.45" fill="#2420b0"/>
<circle cx="166.39" cy="304.88" r="0.38" fill="#2420b0"/>
<circle cx="168.27" cy="306.98" r="0.45" fill="#1a1ac8"/>
<circle cx="203.32" cy="266.84" r="0.38" fill="#15159c"/>
<circle cx="153.91" cy="285.72" r="0.45" fill="#2420b0"/>
<circle cx="207.98" cy="283.63" r="0.45" fill="#2420b0"/>
<circle cx="196.79" cy="262.97" r="0.45" fill="#2420b0"/>
<circle cx="161.93" cy="301.93" r="0.55" fill="#15159c"/>
<circle cx="162.39" cy="303.75" r="0.55" fill="#2020a0"/>
<circle cx="153.93" cy="284.19" r="0.38" fill="#2020a0"/>
<circle cx="154.54" cy="287.95" r="0.55" fill="#1a1ac8"/>
<circle cx="199.46" cy="264.57" r="0.55" fill="#2420b0"/>
<circle cx="189.20" cy="258.56" r="0.38" fill="#1a1ac8"/>
<circle cx="197.25" cy="261.74" r="0.55" fill="#1a1ac8"/>
<circle cx="202.51" cy="279.05" r="0.45" fill="#1a1ac8"/>
<circle cx="169.09" cy="259.79" r="0.38" fill="#1a1ac8"/>
<circle cx="203.07" cy="266.86" r="0.45" fill="#1a1ac8"/>
<circle cx="194.37" cy="293.20" r="0.38" fill="#2020a0"/>
<circle cx="193.69" cy="292.25" r="0.45" fill="#15159c"/>
<circle cx="172.41" cy="258.05" r="0.38" fill="#1a1ac8"/>
<circle cx="173.38" cy="258.76" r="0.38" fill="#2020a0"/>
<circle cx="173.27" cy="258.83" r="0.45" fill="#15159c"/>
<circle cx="155.12" cy="280.44" r="0.55" fill="#15159c"/>
<circle cx="175.99" cy="309.53" r="0.38" fill="#2420b0"/>
<circle cx="155.92" cy="276.51" r="0.55" fill="#2420b0"/>
<circle cx="205.74" cy="268.44" r="0.45" fill="#15159c"/>
<circle cx="167.22" cy="305.91" r="0.45" fill="#15159c"/>
<circle cx="205.55" cy="273.64" r="0.55" fill="#2020a0"/>
<circle cx="156.49" cy="294.51" r="0.38" fill="#15159c"/>
<circle cx="158.98" cy="267.87" r="0.45" fill="#15159c"/>
<circle cx="206.90" cy="275.21" r="0.55" fill="#15159c"/>
<circle cx="201.96" cy="267.37" r="0.55" fill="#2020a0"/>
<circle cx="203.72" cy="277.36" r="0.45" fill="#2020a0"/>
<circle cx="174.81" cy="257.81" r="0.45" fill="#2420b0"/>
<circle cx="174.98" cy="256.27" r="0.38" fill="#15159c"/>
<circle cx="208.43" cy="282.12" r="0.55" fill="#2420b0"/>
<circle cx="206.86" cy="276.89" r="0.45" fill="#15159c"/>
<circle cx="166.53" cy="261.30" r="0.38" fill="#1a1ac8"/>
<circle cx="169.18" cy="306.30" r="0.45" fill="#15159c"/>
<circle cx="196.34" cy="289.12" r="0.45" fill="#2020a0"/>
<circle cx="183.13" cy="309.53" r="0.45" fill="#1a1ac8"/>
<circle cx="193.61" cy="259.90" r="0.38" fill="#2420b0"/>
<circle cx="154.64" cy="287.71" r="0.55" fill="#15159c"/>
<circle cx="194.09" cy="259.83" r="0.55" fill="#2020a0"/>
<circle cx="154.18" cy="282.06" r="0.55" fill="#2420b0"/>
<circle cx="208.96" cy="283.07" r="0.55" fill="#2420b0"/>
<circle cx="175.36" cy="308.85" r="0.55" fill="#15159c"/>
<circle cx="160.49" cy="302.96" r="0.45" fill="#2020a0"/>
<circle cx="168.68" cy="261.45" r="0.38" fill="#2020a0"/>
<circle cx="207.06" cy="272.44" r="0.45" fill="#1a1ac8"/>
<circle cx="157.55" cy="296.12" r="0.45" fill="#1a1ac8"/>
<circle cx="180.48" cy="257.43" r="0.55" fill="#2020a0"/>
<circle cx="201.33" cy="265.36" r="0.38" fill="#2020a0"/>
<circle cx="206.16" cy="275.61" r="0.38" fill="#15159c"/>
<circle cx="157.52" cy="294.28" r="0.38" fill="#1a1ac8"/>
<circle cx="172.92" cy="260.53" r="0.55" fill="#15159c"/>
<circle cx="184.58" cy="310.19" r="0.45" fill="#15159c"/>
<circle cx="161.03" cy="266.55" r="0.45" fill="#2420b0"/>
<circle cx="202.93" cy="265.18" r="0.45" fill="#2020a0"/>
<circle cx="197.57" cy="285.96" r="0.38" fill="#2020a0"/>
<circle cx="181.71" cy="258.08" r="0.55" fill="#2020a0"/>
<circle cx="159.76" cy="300.06" r="0.45" fill="#2420b0"/>
<circle cx="165.51" cy="261.89" r="0.45" fill="#15159c"/>
<circle cx="179.80" cy="310.94" r="0.55" fill="#2020a0"/>
<circle cx="157.15" cy="274.28" r="0.45" fill="#1a1ac8"/>
<circle cx="209.43" cy="281.11" r="0.55" fill="#15159c"/>
<circle cx="182.99" cy="257.64" r="0.55" fill="#2020a0"/>
<circle cx="193.49" cy="259.45" r="0.55" fill="#2420b0"/>
<circle cx="184.42" cy="309.85" r="0.55" fill="#2420b0"/>
<circle cx="203.51" cy="268.79" r="0.55" fill="#1a1ac8"/>
<circle cx="199.96" cy="282.12" r="0.55" fill="#1a1ac8"/>
<circle cx="156.04" cy="276.22" r="0.45" fill="#15159c"/>
<circle cx="160.76" cy="265.26" r="0.38" fill="#15159c"/>
<circle cx="191.04" cy="258.28" r="0.55" fill="#2020a0"/>
<circle cx="161.32" cy="300.36" r="0.38" fill="#2020a0"/>
<circle cx="195.49" cy="292.59" r="0.55" fill="#1a1ac8"/>
<circle cx="156.36" cy="296.23" r="0.45" fill="#15159c"/>
<circle cx="191.97" cy="260.36" r="0.55" fill="#15159c"/>
<circle cx="157.40" cy="288.60" r="0.65" fill="#a030b8"/>
<circle cx="158.60" cy="290.40" r="0.65" fill="#a030b8"/>
<circle cx="160.40" cy="291.40" r="0.65" fill="#a030b8"/>
<circle cx="162.00" cy="289.00" r="0.65" fill="#a030b8"/>
<circle cx="199.40" cy="272.60" r="0.65" fill="#a030b8"/>
<circle cx="200.40" cy="274.60" r="0.65" fill="#a030b8"/>
<circle cx="186.00" cy="274.00" r="0.65" fill="#a030b8"/>
<circle cx="201.00" cy="283.00" r="0.65" fill="#a030b8"/>
</g>
<line x1="214.5" y1="186.8" x2="214.5" y2="314.2" stroke="#f2f2f2" stroke-width="1.3"/>
<line x1="279.3" y1="186.8" x2="279.3" y2="314.2" stroke="#f2f2f2" stroke-width="1.3"/>
<line x1="344.2" y1="186.8" x2="344.2" y2="314.2" stroke="#f2f2f2" stroke-width="1.3"/>
<line x1="150.2" y1="250.6" x2="408" y2="250.6" stroke="#f2f2f2" stroke-width="1.2"/>
<rect x="150.90" y="205.20" width="17.80" height="17.00" fill="none" stroke="#fff" stroke-width="1.15"/>
<line x1="168.7" y1="205.2" x2="213.8" y2="187.4" stroke="#c4c4c4" stroke-width="0.65"/>
<line x1="168.7" y1="222.2" x2="213.8" y2="249.6" stroke="#c4c4c4" stroke-width="0.65"/>
<rect x="151.90" y="278.80" width="17.80" height="17.40" fill="none" stroke="#fff" stroke-width="1.15"/>
<line x1="169.7" y1="278.8" x2="213.8" y2="251.6" stroke="#c4c4c4" stroke-width="0.65"/>
<line x1="169.7" y1="296.2" x2="213.8" y2="313.8" stroke="#c4c4c4" stroke-width="0.65"/>
<rect x="152.20" y="245.20" width="11.20" height="1.60" fill="#eee"/>
<rect x="152.40" y="310.30" width="11.20" height="1.60" fill="#eee"/>
<text x="152.6" y="193.9" font-size="7" textLength="9.8" lengthAdjust="spacingAndGlyphs" fill="#c80000" stroke="#c80000" stroke-width="0.12">NE</text>
<text x="152.6" y="202.2" font-size="7" textLength="26" lengthAdjust="spacingAndGlyphs" fill="#4a8ed6" stroke="#4a8ed6" stroke-width="0.12">Hoechst</text>
<g filter="url(#b05)">
<ellipse cx="241.22" cy="188.76" rx="1.6306862169897316" ry="0.9762391873996646" fill="#2222ee" transform="rotate(-42.830280408901146 241.22 188.76)"/>
<ellipse cx="245.98" cy="188.08" rx="2.0652277857199715" ry="0.9109217480392322" fill="#2222ee" transform="rotate(-31.071290282097355 245.98 188.08)"/>
<ellipse cx="242.58" cy="192.16" rx="2.3248577599459046" ry="0.8745072556116176" fill="#2222ee" transform="rotate(-52.90761870326001 242.58 192.16)"/>
<ellipse cx="237.83" cy="195.55" rx="2.3661337613225286" ry="1.103701287578471" fill="#2222ee" transform="rotate(-35.350969044472684 237.83 195.55)"/>
<ellipse cx="228.99" cy="194.19" rx="1.7909824026859313" ry="1.042683940212188" fill="#2222ee" transform="rotate(-36.39449850986296 228.99 194.19)"/>
<ellipse cx="233.07" cy="196.91" rx="1.9466347970773126" ry="0.9420911412089306" fill="#2222ee" transform="rotate(-51.58185183523953 233.07 196.91)"/>
<ellipse cx="230.35" cy="198.27" rx="1.8898155935045888" ry="1.0136563040060222" fill="#2222ee" transform="rotate(-46.52347372790967 230.35 198.27)"/>
<ellipse cx="223.55" cy="200.99" rx="2.2726426934092743" ry="0.8544011142435833" fill="#2222ee" transform="rotate(-32.56277862348175 223.55 200.99)"/>
<ellipse cx="232.39" cy="203.03" rx="2.005395611809425" ry="0.9822016093139162" fill="#2222ee" transform="rotate(-35.28977422860529 232.39 203.03)"/>
<ellipse cx="220.16" cy="206.43" rx="1.6561803503146564" ry="1.0520127379394406" fill="#2222ee" transform="rotate(-59.34610692307814 220.16 206.43)"/>
<ellipse cx="222.87" cy="209.15" rx="1.7985230410303772" ry="1.0336890376499446" fill="#2222ee" transform="rotate(-63.99168224051387 222.87 209.15)"/>
<ellipse cx="230.35" cy="209.83" rx="2.0900386513148357" ry="0.8513962817693588" fill="#2222ee" transform="rotate(-42.52086426283944 230.35 209.83)"/>
<ellipse cx="225.59" cy="211.86" rx="2.215672683799176" ry="0.9214579358187529" fill="#2222ee" transform="rotate(-48.850582357884555 225.59 211.86)"/>
<ellipse cx="218.80" cy="216.62" rx="1.6225993609922016" ry="0.8172280456014833" fill="#2222ee" transform="rotate(-60.36879940353698 218.80 216.62)"/>
<ellipse cx="222.19" cy="217.30" rx="1.9430614006465294" ry="1.1174808634209752" fill="#2222ee" transform="rotate(-61.4337876047113 222.19 217.30)"/>
<ellipse cx="218.12" cy="219.61" rx="1.9524685324344802" ry="1.0455975616575137" fill="#2222ee" transform="rotate(-34.732840852115416 218.12 219.61)"/>
<ellipse cx="224.91" cy="218.66" rx="2.145182990170504" ry="0.9426955135733794" fill="#2222ee" transform="rotate(-60.486126242147535 224.91 218.66)"/>
<ellipse cx="220.16" cy="223.42" rx="1.9425249756667864" ry="0.9946278103198536" fill="#2222ee" transform="rotate(-54.261363249432335 220.16 223.42)"/>
<ellipse cx="224.23" cy="222.33" rx="2.073719966166944" ry="1.1111634576754208" fill="#2222ee" transform="rotate(-55.681405025266855 224.23 222.33)"/>
<ellipse cx="218.12" cy="226.82" rx="2.494633707476499" ry="0.8541966335743671" fill="#2222ee" transform="rotate(-29.813400970845265 218.12 226.82)"/>
<ellipse cx="221.51" cy="227.77" rx="1.6281936940350343" ry="1.0147829113007996" fill="#2222ee" transform="rotate(-33.55198644954285 221.51 227.77)"/>
<ellipse cx="224.91" cy="227.77" rx="2.0794792799001343" ry="0.9850855236428648" fill="#2222ee" transform="rotate(-36.20317521777075 224.91 227.77)"/>
<ellipse cx="223.55" cy="234.97" rx="2.347603705207292" ry="1.0453341993597915" fill="#2222ee" transform="rotate(-49.3644654536298 223.55 234.97)"/>
<ellipse cx="225.59" cy="239.73" rx="2.029080534613483" ry="1.0200686258674891" fill="#2222ee" transform="rotate(-62.4208877235171 225.59 239.73)"/>
<ellipse cx="218.12" cy="242.45" rx="1.7985230410303772" ry="1.0336890376499446" fill="#2222ee" transform="rotate(-43.99168224051387 218.12 242.45)"/>
<ellipse cx="220.84" cy="245.85" rx="2.161463598554736" ry="0.9581968074479631" fill="#2222ee" transform="rotate(-25.81033339645598 220.84 245.85)"/>
<ellipse cx="225.59" cy="247.21" rx="2.3357037875438142" ry="0.8497088118873902" fill="#2222ee" transform="rotate(-21.458412575788746 225.59 247.21)"/>
<ellipse cx="228.31" cy="247.88" rx="2.4366095790031768" ry="1.0017268056601407" fill="#2222ee" transform="rotate(-18.223582743810802 228.31 247.88)"/>
<ellipse cx="226.95" cy="204.39" rx="2.145182990170504" ry="0.9426955135733794" fill="#2222ee" transform="rotate(-60.486126242147535 226.95 204.39)"/>
<ellipse cx="228.31" cy="215.94" rx="1.9927225935087478" ry="1.1496970532553972" fill="#2222ee" transform="rotate(-53.64551936969554 228.31 215.94)"/>
<ellipse cx="221.51" cy="212.54" rx="1.749592992010161" ry="0.8671383373951059" fill="#2222ee" transform="rotate(-49.00485466086563 221.51 212.54)"/>
<ellipse cx="232.39" cy="224.78" rx="2.0423274119270074" ry="0.8059985028965561" fill="#2222ee" transform="rotate(-29.302649090045755 232.39 224.78)"/>
<ellipse cx="219.07" cy="236.33" rx="2.2843863599771392" ry="1.0364625550222928" fill="#2222ee" transform="rotate(-71.60137807835635 219.07 236.33)"/>
<ellipse cx="226.95" cy="200.31" rx="1.6435396944633085" ry="0.9083397425649898" fill="#2222ee" transform="rotate(-32.97186584772724 226.95 200.31)"/>
<ellipse cx="220.84" cy="215.26" rx="1.8678136671299517" ry="1.1238732731282994" fill="#2222ee" transform="rotate(-57.662025093640914 220.84 215.26)"/>
<ellipse cx="223.55" cy="224.78" rx="2.1831409657749608" ry="0.8102589167625441" fill="#2222ee" transform="rotate(-53.056803831412324 223.55 224.78)"/>
<ellipse cx="226.95" cy="228.86" rx="2.4803545625744436" ry="1.047843492467376" fill="#2222ee" transform="rotate(-38.33769348006379 226.95 228.86)"/>
<ellipse cx="219.88" cy="230.21" rx="1.9814125392590736" ry="0.8551245260159102" fill="#2222ee" transform="rotate(-41.28522408105882 219.88 230.21)"/>
<ellipse cx="222.87" cy="243.13" rx="1.76360747320883" ry="0.9007842419042158" fill="#2222ee" transform="rotate(-30.639041884788544 222.87 243.13)"/>
<ellipse cx="229.67" cy="245.85" rx="2.447727229776179" ry="0.8885687161825591" fill="#2222ee" transform="rotate(-25.872185015992237 229.67 245.85)"/>
<ellipse cx="226.27" cy="207.79" rx="2.161463598554736" ry="0.9581968074479631" fill="#2222ee" transform="rotate(-45.81033339645598 226.27 207.79)"/>
<ellipse cx="235.11" cy="198.95" rx="1.924605644157554" ry="0.9373049617154796" fill="#2222ee" transform="rotate(-34.95148213947822 235.11 198.95)"/>
<ellipse cx="239.18" cy="193.51" rx="2.4934329173569956" ry="1.1469859941915654" fill="#2222ee" transform="rotate(-46.095400441010455 239.18 193.51)"/>
<ellipse cx="243.94" cy="194.19" rx="1.8736422324146105" ry="1.006187280164575" fill="#2222ee" transform="rotate(-31.356011554133687 243.94 194.19)"/>
<ellipse cx="232.39" cy="204.39" rx="2.0" ry="1.15" fill="#d030e0" transform="rotate(-50 232.39 204.39)"/>
<ellipse cx="232.39" cy="204.39" rx="1.15" ry="0.6" fill="#ffe0f0" transform="rotate(-50 232.39 204.39)"/>
<ellipse cx="230.35" cy="209.15" rx="2.0" ry="1.15" fill="#d030e0" transform="rotate(-50 230.35 209.15)"/>
<ellipse cx="230.35" cy="209.15" rx="1.15" ry="0.6" fill="#ffe0f0" transform="rotate(-50 230.35 209.15)"/>
<ellipse cx="228.31" cy="214.58" rx="2.0" ry="1.15" fill="#d030e0" transform="rotate(0 228.31 214.58)"/>
<ellipse cx="228.31" cy="214.58" rx="1.15" ry="0.6" fill="#ffe0f0" transform="rotate(0 228.31 214.58)"/>
<ellipse cx="228.99" cy="219.07" rx="2.0" ry="1.15" fill="#d030e0" transform="rotate(20 228.99 219.07)"/>
<ellipse cx="228.99" cy="219.07" rx="1.15" ry="0.6" fill="#ffe0f0" transform="rotate(20 228.99 219.07)"/>
<ellipse cx="236.47" cy="220.29" rx="2.0" ry="1.15" fill="#d030e0" transform="rotate(40 236.47 220.29)"/>
<ellipse cx="236.47" cy="220.29" rx="1.15" ry="0.6" fill="#ffe0f0" transform="rotate(40 236.47 220.29)"/>
<ellipse cx="233.07" cy="216.62" rx="2.0" ry="1.15" fill="#d030e0" transform="rotate(30 233.07 216.62)"/>
<ellipse cx="233.07" cy="216.62" rx="1.15" ry="0.6" fill="#ffe0f0" transform="rotate(30 233.07 216.62)"/>
<ellipse cx="227.63" cy="224.10" rx="2.0" ry="1.15" fill="#d030e0" transform="rotate(-10 227.63 224.10)"/>
<ellipse cx="227.63" cy="224.10" rx="1.15" ry="0.6" fill="#ffe0f0" transform="rotate(-10 227.63 224.10)"/>
<ellipse cx="231.03" cy="233.61" rx="2.0" ry="1.15" fill="#d030e0" transform="rotate(90 231.03 233.61)"/>
<ellipse cx="231.03" cy="233.61" rx="1.15" ry="0.6" fill="#ffe0f0" transform="rotate(90 231.03 233.61)"/>
<ellipse cx="228.31" cy="241.77" rx="2.0" ry="1.15" fill="#d030e0" transform="rotate(50 228.31 241.77)"/>
<ellipse cx="228.31" cy="241.77" rx="1.15" ry="0.6" fill="#ffe0f0" transform="rotate(50 228.31 241.77)"/>
<ellipse cx="234.43" cy="241.09" rx="2.0" ry="1.15" fill="#d030e0" transform="rotate(-30 234.43 241.09)"/>
<ellipse cx="234.43" cy="241.09" rx="1.15" ry="0.6" fill="#ffe0f0" transform="rotate(-30 234.43 241.09)"/>
<ellipse cx="242.58" cy="190.12" rx="2.0" ry="1.15" fill="#d030e0" transform="rotate(-30 242.58 190.12)"/>
<ellipse cx="242.58" cy="190.12" rx="1.15" ry="0.6" fill="#ffe0f0" transform="rotate(-30 242.58 190.12)"/>
<ellipse cx="306.22" cy="188.76" rx="1.6306862169897316" ry="0.9762391873996646" fill="#1c14e6" transform="rotate(-42.830280408901146 306.22 188.76)"/>
<ellipse cx="310.98" cy="188.08" rx="2.0652277857199715" ry="0.9109217480392322" fill="#1c14e6" transform="rotate(-31.071290282097355 310.98 188.08)"/>
<ellipse cx="307.58" cy="192.16" rx="2.3248577599459046" ry="0.8745072556116176" fill="#1c14e6" transform="rotate(-52.90761870326001 307.58 192.16)"/>
<ellipse cx="302.83" cy="195.55" rx="2.3661337613225286" ry="1.103701287578471" fill="#1c14e6" transform="rotate(-35.350969044472684 302.83 195.55)"/>
<ellipse cx="293.99" cy="194.19" rx="1.7909824026859313" ry="1.042683940212188" fill="#1c14e6" transform="rotate(-36.39449850986296 293.99 194.19)"/>
<ellipse cx="298.07" cy="196.91" rx="1.9466347970773126" ry="0.9420911412089306" fill="#1c14e6" transform="rotate(-51.58185183523953 298.07 196.91)"/>
<ellipse cx="295.35" cy="198.27" rx="1.8898155935045888" ry="1.0136563040060222" fill="#1c14e6" transform="rotate(-46.52347372790967 295.35 198.27)"/>
<ellipse cx="288.55" cy="200.99" rx="2.2726426934092743" ry="0.8544011142435833" fill="#1c14e6" transform="rotate(-32.56277862348175 288.55 200.99)"/>
<ellipse cx="297.39" cy="203.03" rx="2.005395611809425" ry="0.9822016093139162" fill="#1c14e6" transform="rotate(-35.28977422860529 297.39 203.03)"/>
<ellipse cx="285.16" cy="206.43" rx="1.6561803503146564" ry="1.0520127379394406" fill="#1c14e6" transform="rotate(-59.34610692307814 285.16 206.43)"/>
<ellipse cx="287.87" cy="209.15" rx="1.7985230410303772" ry="1.0336890376499446" fill="#1c14e6" transform="rotate(-63.99168224051387 287.87 209.15)"/>
<ellipse cx="295.35" cy="209.83" rx="2.0900386513148357" ry="0.8513962817693588" fill="#1c14e6" transform="rotate(-42.52086426283944 295.35 209.83)"/>
<ellipse cx="290.59" cy="211.86" rx="2.215672683799176" ry="0.9214579358187529" fill="#1c14e6" transform="rotate(-48.850582357884555 290.59 211.86)"/>
<ellipse cx="283.80" cy="216.62" rx="1.6225993609922016" ry="0.8172280456014833" fill="#1c14e6" transform="rotate(-60.36879940353698 283.80 216.62)"/>
<ellipse cx="287.19" cy="217.30" rx="1.9430614006465294" ry="1.1174808634209752" fill="#1c14e6" transform="rotate(-61.4337876047113 287.19 217.30)"/>
<ellipse cx="283.12" cy="219.61" rx="1.9524685324344802" ry="1.0455975616575137" fill="#1c14e6" transform="rotate(-34.732840852115416 283.12 219.61)"/>
<ellipse cx="289.91" cy="218.66" rx="2.145182990170504" ry="0.9426955135733794" fill="#1c14e6" transform="rotate(-60.486126242147535 289.91 218.66)"/>
<ellipse cx="285.16" cy="223.42" rx="1.9425249756667864" ry="0.9946278103198536" fill="#1c14e6" transform="rotate(-54.261363249432335 285.16 223.42)"/>
<ellipse cx="289.23" cy="222.33" rx="2.073719966166944" ry="1.1111634576754208" fill="#1c14e6" transform="rotate(-55.681405025266855 289.23 222.33)"/>
<ellipse cx="283.12" cy="226.82" rx="2.494633707476499" ry="0.8541966335743671" fill="#1c14e6" transform="rotate(-29.813400970845265 283.12 226.82)"/>
<ellipse cx="286.51" cy="227.77" rx="1.6281936940350343" ry="1.0147829113007996" fill="#1c14e6" transform="rotate(-33.55198644954285 286.51 227.77)"/>
<ellipse cx="289.91" cy="227.77" rx="2.0794792799001343" ry="0.9850855236428648" fill="#1c14e6" transform="rotate(-36.20317521777075 289.91 227.77)"/>
<ellipse cx="288.55" cy="234.97" rx="2.347603705207292" ry="1.0453341993597915" fill="#1c14e6" transform="rotate(-49.3644654536298 288.55 234.97)"/>
<ellipse cx="290.59" cy="239.73" rx="2.029080534613483" ry="1.0200686258674891" fill="#1c14e6" transform="rotate(-62.4208877235171 290.59 239.73)"/>
<ellipse cx="283.12" cy="242.45" rx="1.7985230410303772" ry="1.0336890376499446" fill="#1c14e6" transform="rotate(-43.99168224051387 283.12 242.45)"/>
<ellipse cx="285.84" cy="245.85" rx="2.161463598554736" ry="0.9581968074479631" fill="#1c14e6" transform="rotate(-25.81033339645598 285.84 245.85)"/>
<ellipse cx="290.59" cy="247.21" rx="2.3357037875438142" ry="0.8497088118873902" fill="#1c14e6" transform="rotate(-21.458412575788746 290.59 247.21)"/>
<ellipse cx="293.31" cy="247.88" rx="2.4366095790031768" ry="1.0017268056601407" fill="#1c14e6" transform="rotate(-18.223582743810802 293.31 247.88)"/>
<ellipse cx="291.95" cy="204.39" rx="2.145182990170504" ry="0.9426955135733794" fill="#1c14e6" transform="rotate(-60.486126242147535 291.95 204.39)"/>
<ellipse cx="293.31" cy="215.94" rx="1.9927225935087478" ry="1.1496970532553972" fill="#1c14e6" transform="rotate(-53.64551936969554 293.31 215.94)"/>
<ellipse cx="286.51" cy="212.54" rx="1.749592992010161" ry="0.8671383373951059" fill="#1c14e6" transform="rotate(-49.00485466086563 286.51 212.54)"/>
<ellipse cx="297.39" cy="224.78" rx="2.0423274119270074" ry="0.8059985028965561" fill="#1c14e6" transform="rotate(-29.302649090045755 297.39 224.78)"/>
<ellipse cx="284.07" cy="236.33" rx="2.2843863599771392" ry="1.0364625550222928" fill="#1c14e6" transform="rotate(-71.60137807835635 284.07 236.33)"/>
<ellipse cx="291.95" cy="200.31" rx="1.6435396944633085" ry="0.9083397425649898" fill="#1c14e6" transform="rotate(-32.97186584772724 291.95 200.31)"/>
<ellipse cx="285.84" cy="215.26" rx="1.8678136671299517" ry="1.1238732731282994" fill="#1c14e6" transform="rotate(-57.662025093640914 285.84 215.26)"/>
<ellipse cx="288.55" cy="224.78" rx="2.1831409657749608" ry="0.8102589167625441" fill="#1c14e6" transform="rotate(-53.056803831412324 288.55 224.78)"/>
<ellipse cx="291.95" cy="228.86" rx="2.4803545625744436" ry="1.047843492467376" fill="#1c14e6" transform="rotate(-38.33769348006379 291.95 228.86)"/>
<ellipse cx="284.88" cy="230.21" rx="1.9814125392590736" ry="0.8551245260159102" fill="#1c14e6" transform="rotate(-41.28522408105882 284.88 230.21)"/>
<ellipse cx="287.87" cy="243.13" rx="1.76360747320883" ry="0.9007842419042158" fill="#1c14e6" transform="rotate(-30.639041884788544 287.87 243.13)"/>
<ellipse cx="294.67" cy="245.85" rx="2.447727229776179" ry="0.8885687161825591" fill="#1c14e6" transform="rotate(-25.872185015992237 294.67 245.85)"/>
<ellipse cx="291.27" cy="207.79" rx="2.161463598554736" ry="0.9581968074479631" fill="#1c14e6" transform="rotate(-45.81033339645598 291.27 207.79)"/>
<ellipse cx="300.11" cy="198.95" rx="1.924605644157554" ry="0.9373049617154796" fill="#1c14e6" transform="rotate(-34.95148213947822 300.11 198.95)"/>
<ellipse cx="304.18" cy="193.51" rx="2.4934329173569956" ry="1.1469859941915654" fill="#1c14e6" transform="rotate(-46.095400441010455 304.18 193.51)"/>
<ellipse cx="308.94" cy="194.19" rx="1.8736422324146105" ry="1.006187280164575" fill="#1c14e6" transform="rotate(-31.356011554133687 308.94 194.19)"/>
<ellipse cx="297.39" cy="204.39" rx="2.0" ry="1.05" fill="#1c14e6" transform="rotate(-50 297.39 204.39)"/>
<ellipse cx="295.35" cy="209.15" rx="2.0" ry="1.05" fill="#1c14e6" transform="rotate(-50 295.35 209.15)"/>
<ellipse cx="293.31" cy="214.58" rx="2.0" ry="1.05" fill="#1c14e6" transform="rotate(0 293.31 214.58)"/>
<ellipse cx="293.99" cy="219.07" rx="2.0" ry="1.05" fill="#1c14e6" transform="rotate(20 293.99 219.07)"/>
<ellipse cx="301.47" cy="220.29" rx="2.0" ry="1.05" fill="#1c14e6" transform="rotate(40 301.47 220.29)"/>
<ellipse cx="298.07" cy="216.62" rx="2.0" ry="1.05" fill="#1c14e6" transform="rotate(30 298.07 216.62)"/>
<ellipse cx="292.63" cy="224.10" rx="2.0" ry="1.05" fill="#1c14e6" transform="rotate(-10 292.63 224.10)"/>
<ellipse cx="296.03" cy="233.61" rx="2.0" ry="1.05" fill="#1c14e6" transform="rotate(90 296.03 233.61)"/>
<ellipse cx="293.31" cy="241.77" rx="2.0" ry="1.05" fill="#1c14e6" transform="rotate(50 293.31 241.77)"/>
<ellipse cx="299.43" cy="241.09" rx="2.0" ry="1.05" fill="#1c14e6" transform="rotate(-30 299.43 241.09)"/>
<ellipse cx="307.58" cy="190.12" rx="2.0" ry="1.05" fill="#1c14e6" transform="rotate(-30 307.58 190.12)"/>
<ellipse cx="360.35" cy="205.07" rx="1.5" ry="0.8" fill="#c81800" transform="rotate(-50 360.35 205.07)"/>
<ellipse cx="360.35" cy="205.07" rx="0.8" ry="0.45" fill="#ffb030" transform="rotate(-50 360.35 205.07)"/>
<ellipse cx="358.99" cy="207.38" rx="1.5" ry="0.8" fill="#c81800" transform="rotate(-50 358.99 207.38)"/>
<ellipse cx="358.99" cy="207.38" rx="0.8" ry="0.45" fill="#ffb030" transform="rotate(-50 358.99 207.38)"/>
<ellipse cx="358.04" cy="209.83" rx="1.5" ry="0.8" fill="#c81800" transform="rotate(-50 358.04 209.83)"/>
<ellipse cx="358.04" cy="209.83" rx="0.8" ry="0.45" fill="#ffb030" transform="rotate(-50 358.04 209.83)"/>
<ellipse cx="355.86" cy="214.99" rx="1.5" ry="0.8" fill="#c81800" transform="rotate(0 355.86 214.99)"/>
<ellipse cx="355.86" cy="214.99" rx="0.8" ry="0.45" fill="#ffb030" transform="rotate(0 355.86 214.99)"/>
<ellipse cx="359.94" cy="216.89" rx="1.5" ry="0.8" fill="#c81800" transform="rotate(20 359.94 216.89)"/>
<ellipse cx="359.94" cy="216.89" rx="0.8" ry="0.45" fill="#ffb030" transform="rotate(20 359.94 216.89)"/>
<ellipse cx="356.27" cy="219.61" rx="1.5" ry="0.8" fill="#c81800" transform="rotate(10 356.27 219.61)"/>
<ellipse cx="356.27" cy="219.61" rx="0.8" ry="0.45" fill="#ffb030" transform="rotate(10 356.27 219.61)"/>
<ellipse cx="363.48" cy="220.70" rx="1.5" ry="0.8" fill="#c81800" transform="rotate(40 363.48 220.70)"/>
<ellipse cx="363.48" cy="220.70" rx="0.8" ry="0.45" fill="#ffb030" transform="rotate(40 363.48 220.70)"/>
<ellipse cx="354.91" cy="224.51" rx="1.5" ry="0.8" fill="#c81800" transform="rotate(-10 354.91 224.51)"/>
<ellipse cx="354.91" cy="224.51" rx="0.8" ry="0.45" fill="#ffb030" transform="rotate(-10 354.91 224.51)"/>
<ellipse cx="357.22" cy="223.42" rx="1.5" ry="0.8" fill="#c81800" transform="rotate(0 357.22 223.42)"/>
<ellipse cx="357.22" cy="223.42" rx="0.8" ry="0.45" fill="#ffb030" transform="rotate(0 357.22 223.42)"/>
<ellipse cx="352.19" cy="227.77" rx="1.5" ry="0.8" fill="#c81800" transform="rotate(80 352.19 227.77)"/>
<ellipse cx="352.19" cy="227.77" rx="0.8" ry="0.45" fill="#ffb030" transform="rotate(80 352.19 227.77)"/>
<ellipse cx="358.31" cy="232.93" rx="1.5" ry="0.8" fill="#c81800" transform="rotate(90 358.31 232.93)"/>
<ellipse cx="358.31" cy="232.93" rx="0.8" ry="0.45" fill="#ffb030" transform="rotate(90 358.31 232.93)"/>
<ellipse cx="358.31" cy="235.92" rx="1.5" ry="0.8" fill="#c81800" transform="rotate(90 358.31 235.92)"/>
<ellipse cx="358.31" cy="235.92" rx="0.8" ry="0.45" fill="#ffb030" transform="rotate(90 358.31 235.92)"/>
<ellipse cx="354.91" cy="241.77" rx="1.5" ry="0.8" fill="#c81800" transform="rotate(50 354.91 241.77)"/>
<ellipse cx="354.91" cy="241.77" rx="0.8" ry="0.45" fill="#ffb030" transform="rotate(50 354.91 241.77)"/>
<ellipse cx="359.67" cy="242.18" rx="1.5" ry="0.8" fill="#c81800" transform="rotate(0 359.67 242.18)"/>
<ellipse cx="359.67" cy="242.18" rx="0.8" ry="0.45" fill="#ffb030" transform="rotate(0 359.67 242.18)"/>
<ellipse cx="362.12" cy="240.41" rx="1.5" ry="0.8" fill="#c81800" transform="rotate(-50 362.12 240.41)"/>
<ellipse cx="362.12" cy="240.41" rx="0.8" ry="0.45" fill="#ffb030" transform="rotate(-50 362.12 240.41)"/>
<circle cx="369.86" cy="190.39" r="0.5" fill="#c00000"/>
<ellipse cx="231.03" cy="255.48" rx="2.6" ry="0.8" fill="#2222ee" transform="rotate(90 231.03 255.48)"/>
<ellipse cx="231.71" cy="262.27" rx="2.2" ry="0.8" fill="#2222ee" transform="rotate(60 231.71 262.27)"/>
<ellipse cx="233.07" cy="265.67" rx="2" ry="0.8" fill="#2222ee" transform="rotate(60 233.07 265.67)"/>
<ellipse cx="227.63" cy="267.03" rx="2.2" ry="0.8" fill="#2222ee" transform="rotate(-60 227.63 267.03)"/>
<ellipse cx="231.03" cy="279.26" rx="3.2" ry="0.8" fill="#2222ee" transform="rotate(90 231.03 279.26)"/>
<ellipse cx="233.75" cy="280.62" rx="1" ry="0.8" fill="#2222ee" transform="rotate(90 233.75 280.62)"/>
<ellipse cx="234.43" cy="289.46" rx="2.6" ry="0.8" fill="#2222ee" transform="rotate(80 234.43 289.46)"/>
<ellipse cx="236.47" cy="297.61" rx="1.8" ry="0.8" fill="#2222ee" transform="rotate(70 236.47 297.61)"/>
<ellipse cx="237.83" cy="307.13" rx="2.4" ry="0.8" fill="#2222ee" transform="rotate(70 237.83 307.13)"/>
<ellipse cx="239.86" cy="313.52" rx="1.6" ry="0.8" fill="#2222ee" transform="rotate(60 239.86 313.52)"/>
<ellipse cx="243.94" cy="294.21" rx="1.6" ry="0.8" fill="#2222ee" transform="rotate(20 243.94 294.21)"/>
<ellipse cx="246.66" cy="295.03" rx="1.2" ry="0.8" fill="#2222ee" transform="rotate(0 246.66 295.03)"/>
<ellipse cx="239.86" cy="288.78" rx="2" ry="0.8" fill="#2222ee" transform="rotate(30 239.86 288.78)"/>
<ellipse cx="235.79" cy="286.06" rx="2.3" ry="1.1" fill="#e040d8" transform="rotate(70 235.79 286.06)"/>
<ellipse cx="235.79" cy="286.06" rx="1.4" ry="0.55" fill="#ffd0f0" transform="rotate(70 235.79 286.06)"/>
<ellipse cx="240.54" cy="288.10" rx="2.3" ry="1.1" fill="#e040d8" transform="rotate(30 240.54 288.10)"/>
<ellipse cx="240.54" cy="288.10" rx="1.4" ry="0.55" fill="#ffd0f0" transform="rotate(30 240.54 288.10)"/>
<ellipse cx="241.22" cy="292.18" rx="2.3" ry="1.1" fill="#e040d8" transform="rotate(30 241.22 292.18)"/>
<ellipse cx="241.22" cy="292.18" rx="1.4" ry="0.55" fill="#ffd0f0" transform="rotate(30 241.22 292.18)"/>
<ellipse cx="248.70" cy="292.18" rx="2.3" ry="1.1" fill="#e040d8" transform="rotate(75 248.70 292.18)"/>
<ellipse cx="248.70" cy="292.18" rx="1.4" ry="0.55" fill="#ffd0f0" transform="rotate(75 248.70 292.18)"/>
<ellipse cx="251.69" cy="284.70" rx="2.3" ry="1.1" fill="#e040d8" transform="rotate(-50 251.69 284.70)"/>
<ellipse cx="251.69" cy="284.70" rx="1.4" ry="0.55" fill="#ffd0f0" transform="rotate(-50 251.69 284.70)"/>
<circle cx="273.17" cy="302.37" r="0.55" fill="#a020a0"/>
<ellipse cx="296.03" cy="255.48" rx="2.6" ry="0.8" fill="#1c14e6" transform="rotate(90 296.03 255.48)"/>
<ellipse cx="296.71" cy="262.27" rx="2.2" ry="0.8" fill="#1c14e6" transform="rotate(60 296.71 262.27)"/>
<ellipse cx="298.07" cy="265.67" rx="2" ry="0.8" fill="#1c14e6" transform="rotate(60 298.07 265.67)"/>
<ellipse cx="292.63" cy="267.03" rx="2.2" ry="0.8" fill="#1c14e6" transform="rotate(-60 292.63 267.03)"/>
<ellipse cx="296.03" cy="279.26" rx="3.2" ry="0.8" fill="#1c14e6" transform="rotate(90 296.03 279.26)"/>
<ellipse cx="298.75" cy="280.62" rx="1" ry="0.8" fill="#1c14e6" transform="rotate(90 298.75 280.62)"/>
<ellipse cx="299.43" cy="289.46" rx="2.6" ry="0.8" fill="#1c14e6" transform="rotate(80 299.43 289.46)"/>
<ellipse cx="301.47" cy="297.61" rx="1.8" ry="0.8" fill="#1c14e6" transform="rotate(70 301.47 297.61)"/>
<ellipse cx="302.83" cy="307.13" rx="2.4" ry="0.8" fill="#1c14e6" transform="rotate(70 302.83 307.13)"/>
<ellipse cx="304.86" cy="313.52" rx="1.6" ry="0.8" fill="#1c14e6" transform="rotate(60 304.86 313.52)"/>
<ellipse cx="308.94" cy="294.21" rx="1.6" ry="0.8" fill="#1c14e6" transform="rotate(20 308.94 294.21)"/>
<ellipse cx="311.66" cy="295.03" rx="1.2" ry="0.8" fill="#1c14e6" transform="rotate(0 311.66 295.03)"/>
<ellipse cx="304.86" cy="288.78" rx="2" ry="0.8" fill="#1c14e6" transform="rotate(30 304.86 288.78)"/>
<ellipse cx="300.79" cy="286.06" rx="2.3" ry="1.0" fill="#1c14e6" transform="rotate(70 300.79 286.06)"/>
<ellipse cx="305.54" cy="288.10" rx="2.3" ry="1.0" fill="#1c14e6" transform="rotate(30 305.54 288.10)"/>
<ellipse cx="306.22" cy="292.18" rx="2.3" ry="1.0" fill="#1c14e6" transform="rotate(30 306.22 292.18)"/>
<ellipse cx="313.70" cy="292.18" rx="2.3" ry="1.0" fill="#1c14e6" transform="rotate(75 313.70 292.18)"/>
<ellipse cx="316.69" cy="284.70" rx="2.3" ry="1.0" fill="#1c14e6" transform="rotate(-50 316.69 284.70)"/>
<circle cx="338.17" cy="302.37" r="0.55" fill="#1515a0"/>
<ellipse cx="368.91" cy="287.69" rx="2.0" ry="0.75" fill="#c81800" transform="rotate(70 368.91 287.69)"/>
<ellipse cx="368.91" cy="287.69" rx="1.0" ry="0.4" fill="#ff9a20" transform="rotate(70 368.91 287.69)"/>
<ellipse cx="373.53" cy="288.78" rx="2.0" ry="0.75" fill="#c81800" transform="rotate(35 373.53 288.78)"/>
<ellipse cx="373.53" cy="288.78" rx="1.0" ry="0.4" fill="#ff9a20" transform="rotate(35 373.53 288.78)"/>
<ellipse cx="374.62" cy="294.49" rx="2.0" ry="0.75" fill="#c81800" transform="rotate(40 374.62 294.49)"/>
<ellipse cx="374.62" cy="294.49" rx="1.0" ry="0.4" fill="#ff9a20" transform="rotate(40 374.62 294.49)"/>
<ellipse cx="382.10" cy="293.94" rx="2.0" ry="0.75" fill="#c81800" transform="rotate(75 382.10 293.94)"/>
<ellipse cx="382.10" cy="293.94" rx="1.0" ry="0.4" fill="#ff9a20" transform="rotate(75 382.10 293.94)"/>
<ellipse cx="384.82" cy="286.74" rx="2.0" ry="0.75" fill="#c81800" transform="rotate(-50 384.82 286.74)"/>
<ellipse cx="384.82" cy="286.74" rx="1.0" ry="0.4" fill="#ff9a20" transform="rotate(-50 384.82 286.74)"/>
</g>
<text x="145.5" y="212.3" font-size="6.2" text-anchor="middle" textLength="14.5" lengthAdjust="spacingAndGlyphs" fill="#1a1a1a" transform="rotate(-90 145.5 212.3)">α9<tspan font-size="4.4" dy="-3.1">fl/fl</tspan></text>
<text x="145.6" y="284.6" font-size="6.2" text-anchor="middle" textLength="44.3" lengthAdjust="spacingAndGlyphs" fill="#1a1a1a" transform="rotate(-90 145.6 284.6)">α9<tspan font-size="4.4" dy="-3.1">fl/fl</tspan><tspan dy="3.1">LysMCre</tspan><tspan font-size="4.4" dy="-3.1">+</tspan></text>
<line x1="455.6" y1="195" x2="455.6" y2="296" stroke="#111" stroke-width="1.3"/>
<line x1="453.0" y1="198" x2="455.6" y2="198" stroke="#111" stroke-width="1.3"/>
<text x="450" y="200.628" font-size="7.3" text-anchor="end" textLength="7.31" lengthAdjust="spacingAndGlyphs" fill="#1a1a1a" stroke="#1a1a1a" stroke-width="0.12">25</text>
<line x1="453.0" y1="217.5" x2="455.6" y2="217.5" stroke="#111" stroke-width="1.3"/>
<text x="450" y="220.128" font-size="7.3" text-anchor="end" textLength="7.31" lengthAdjust="spacingAndGlyphs" fill="#1a1a1a" stroke="#1a1a1a" stroke-width="0.12">20</text>
<line x1="453.0" y1="237" x2="455.6" y2="237" stroke="#111" stroke-width="1.3"/>
<text x="450" y="239.628" font-size="7.3" text-anchor="end" textLength="7.31" lengthAdjust="spacingAndGlyphs" fill="#1a1a1a" stroke="#1a1a1a" stroke-width="0.12">15</text>
<line x1="453.0" y1="256.5" x2="455.6" y2="256.5" stroke="#111" stroke-width="1.3"/>
<text x="450" y="259.128" font-size="7.3" text-anchor="end" textLength="7.31" lengthAdjust="spacingAndGlyphs" fill="#1a1a1a" stroke="#1a1a1a" stroke-width="0.12">10</text>
<line x1="453.0" y1="276" x2="455.6" y2="276" stroke="#111" stroke-width="1.3"/>
<text x="450" y="278.628" font-size="7.3" text-anchor="end" textLength="3.65" lengthAdjust="spacingAndGlyphs" fill="#1a1a1a" stroke="#1a1a1a" stroke-width="0.12">5</text>
<line x1="453.0" y1="295.5" x2="455.6" y2="295.5" stroke="#111" stroke-width="1.3"/>
<text x="450" y="298.128" font-size="7.3" text-anchor="end" textLength="3.65" lengthAdjust="spacingAndGlyphs" fill="#1a1a1a" stroke="#1a1a1a" stroke-width="0.12">0</text>
<line x1="452.6" y1="295.5" x2="511.2" y2="295.5" stroke="#111" stroke-width="1.3"/>
<path d="M460.40 294.95V226.30H477.80V294.95" fill="none" stroke="#c4163f" stroke-width="1.1"/>
<path d="M488.60 294.95V261.80H506.00V294.95" fill="none" stroke="#2f4f92" stroke-width="1.1"/>
<line x1="469.3" y1="218.3" x2="469.3" y2="234.5" stroke="#111" stroke-width="1.0"/>
<line x1="465.5" y1="218.3" x2="473.1" y2="218.3" stroke="#111" stroke-width="1.0"/>
<line x1="465.5" y1="234.5" x2="473.1" y2="234.5" stroke="#111" stroke-width="1.0"/>
<line x1="497.6" y1="254.3" x2="497.6" y2="267.5" stroke="#111" stroke-width="1.0"/>
<line x1="493.8" y1="254.3" x2="501.40000000000003" y2="254.3" stroke="#111" stroke-width="1.0"/>
<line x1="493.8" y1="267.5" x2="501.40000000000003" y2="267.5" stroke="#111" stroke-width="1.0"/>
<circle cx="469.50" cy="206.30" r="1.75" fill="#b3002d"/>
<circle cx="466.30" cy="218.00" r="1.75" fill="#b3002d"/>
<circle cx="472.50" cy="218.00" r="1.75" fill="#b3002d"/>
<circle cx="466.30" cy="245.00" r="1.75" fill="#b3002d"/>
<circle cx="472.50" cy="245.00" r="1.75" fill="#b3002d"/>
<rect x="495.85" y="227.85" width="3.3" height="3.3" fill="#17387d"/>
<rect x="495.85" y="250.85" width="3.3" height="3.3" fill="#17387d"/>
<rect x="495.85" y="255.85" width="3.3" height="3.3" fill="#17387d"/>
<rect x="495.85" y="267.15" width="3.3" height="3.3" fill="#17387d"/>
<rect x="492.85" y="278.35" width="3.3" height="3.3" fill="#17387d"/>
<rect x="498.85" y="278.35" width="3.3" height="3.3" fill="#17387d"/>
<text x="484" y="197" font-size="5.7" text-anchor="middle" textLength="17.6" lengthAdjust="spacingAndGlyphs" fill="#1a1a1a">P&lt;0.05</text>
<line x1="470.8" y1="199.7" x2="498.8" y2="199.7" stroke="#2a2a2a" stroke-width="1.3"/>
<text x="424.8" y="245" font-size="8.6" text-anchor="middle" textLength="75" lengthAdjust="spacingAndGlyphs" fill="#1a1a1a" transform="rotate(-90 424.8 245)" stroke="#1a1a1a" stroke-width="0.14">Neutrophil elastase +ve</text>
<text x="436.2" y="245.6" font-size="8.6" text-anchor="middle" textLength="44" lengthAdjust="spacingAndGlyphs" fill="#1a1a1a" transform="rotate(-90 436.2 245.6)" stroke="#1a1a1a" stroke-width="0.14">cells/10<tspan font-size="5.6" dy="-3.0">5</tspan><tspan dy="3.0"> μm</tspan><tspan font-size="5.6" dy="-3.0">2</tspan></text>
<text x="469.4" y="305.2" font-size="6.8" text-anchor="middle" fill="#1a1a1a" stroke="#1a1a1a" stroke-width="0.12">α9<tspan font-size="4.9" dy="-3.13">fl/fl</tspan></text>
<text x="496.8" y="305.2" font-size="6.8" text-anchor="middle" fill="#1a1a1a" stroke="#1a1a1a" stroke-width="0.12">α9<tspan font-size="4.9" dy="-3.13">fl/fl</tspan></text>
<text x="497.4" y="313.8" font-size="6.8" text-anchor="middle" textLength="28.5" lengthAdjust="spacingAndGlyphs" fill="#1a1a1a" stroke="#1a1a1a" stroke-width="0.12">LysMCre<tspan font-size="4.9" dy="-3.13">+</tspan></text>
<text x="7.9" y="341.29999999999995" font-size="12.3" font-weight="bold" fill="#000" stroke="#000" stroke-width="0.45">F</text>
<line x1="61.4" y1="343" x2="61.4" y2="441.8" stroke="#111" stroke-width="1.3"/>
<line x1="58.8" y1="345.5" x2="61.4" y2="345.5" stroke="#111" stroke-width="1.3"/>
<text x="55.8" y="348.128" font-size="7.3" text-anchor="end" textLength="12.38" lengthAdjust="spacingAndGlyphs" fill="#1a1a1a" stroke="#1a1a1a" stroke-width="0.12">&gt;40</text>
<line x1="58.8" y1="357.47" x2="61.4" y2="357.47" stroke="#111" stroke-width="1.3"/>
<text x="55.8" y="360.098" font-size="7.3" text-anchor="end" textLength="7.31" lengthAdjust="spacingAndGlyphs" fill="#1a1a1a" stroke="#1a1a1a" stroke-width="0.12">35</text>
<line x1="58.8" y1="369.44" x2="61.4" y2="369.44" stroke="#111" stroke-width="1.3"/>
<text x="55.8" y="372.068" font-size="7.3" text-anchor="end" textLength="7.31" lengthAdjust="spacingAndGlyphs" fill="#1a1a1a" stroke="#1a1a1a" stroke-width="0.12">30</text>
<line x1="58.8" y1="381.41" x2="61.4" y2="381.41" stroke="#111" stroke-width="1.3"/>
<text x="55.8" y="384.038" font-size="7.3" text-anchor="end" textLength="7.31" lengthAdjust="spacingAndGlyphs" fill="#1a1a1a" stroke="#1a1a1a" stroke-width="0.12">25</text>
<line x1="58.8" y1="393.38" x2="61.4" y2="393.38" stroke="#111" stroke-width="1.3"/>
<text x="55.8" y="396.008" font-size="7.3" text-anchor="end" textLength="7.31" lengthAdjust="spacingAndGlyphs" fill="#1a1a1a" stroke="#1a1a1a" stroke-width="0.12">20</text>
<line x1="58.8" y1="405.35" x2="61.4" y2="405.35" stroke="#111" stroke-width="1.3"/>
<text x="55.8" y="407.978" font-size="7.3" text-anchor="end" textLength="7.31" lengthAdjust="spacingAndGlyphs" fill="#1a1a1a" stroke="#1a1a1a" stroke-width="0.12">15</text>
<line x1="58.8" y1="417.32" x2="61.4" y2="417.32" stroke="#111" stroke-width="1.3"/>
<text x="55.8" y="419.948" font-size="7.3" text-anchor="end" textLength="7.31" lengthAdjust="spacingAndGlyphs" fill="#1a1a1a" stroke="#1a1a1a" stroke-width="0.12">10</text>
<line x1="58.8" y1="429.29" x2="61.4" y2="429.29" stroke="#111" stroke-width="1.3"/>
<text x="55.8" y="431.918" font-size="7.3" text-anchor="end" textLength="3.65" lengthAdjust="spacingAndGlyphs" fill="#1a1a1a" stroke="#1a1a1a" stroke-width="0.12">5</text>
<line x1="58.8" y1="441.26" x2="61.4" y2="441.26" stroke="#111" stroke-width="1.3"/>
<text x="55.8" y="443.888" font-size="7.3" text-anchor="end" textLength="3.65" lengthAdjust="spacingAndGlyphs" fill="#1a1a1a" stroke="#1a1a1a" stroke-width="0.12">0</text>
<line x1="58.8" y1="441.25" x2="129.6" y2="441.25" stroke="#111" stroke-width="1.3"/>
<path d="M72.60 440.70V396.60H89.60V440.70" fill="none" stroke="#c4163f" stroke-width="1.1"/>
<path d="M101.40 440.70V397.40H118.60V440.70" fill="none" stroke="#2f4f92" stroke-width="1.1"/>
<line x1="81" y1="389.8" x2="81" y2="402.2" stroke="#111" stroke-width="1.0"/>
<line x1="76.3" y1="389.8" x2="85.7" y2="389.8" stroke="#111" stroke-width="1.0"/>
<line x1="76.3" y1="402.2" x2="85.7" y2="402.2" stroke="#111" stroke-width="1.0"/>
<line x1="109.7" y1="392.8" x2="109.7" y2="400.4" stroke="#111" stroke-width="1.0"/>
<line x1="105.3" y1="392.8" x2="114.10000000000001" y2="392.8" stroke="#111" stroke-width="1.0"/>
<line x1="105.3" y1="400.4" x2="114.10000000000001" y2="400.4" stroke="#111" stroke-width="1.0"/>
<circle cx="81.20" cy="345.80" r="2.0" fill="#b3002d"/>
<circle cx="73.20" cy="390.30" r="2.0" fill="#b3002d"/>
<circle cx="81.00" cy="393.90" r="2.0" fill="#b3002d"/>
<circle cx="73.20" cy="394.80" r="2.0" fill="#b3002d"/>
<circle cx="88.80" cy="394.80" r="2.0" fill="#b3002d"/>
<circle cx="81.00" cy="398.10" r="2.0" fill="#b3002d"/>
<circle cx="81.00" cy="405.00" r="2.0" fill="#b3002d"/>
<circle cx="73.20" cy="412.20" r="2.0" fill="#b3002d"/>
<circle cx="81.00" cy="412.20" r="2.0" fill="#b3002d"/>
<circle cx="88.80" cy="412.20" r="2.0" fill="#b3002d"/>
<rect x="99.95" y="387.25" width="4.1" height="4.1" fill="#17387d"/>
<rect x="104.95" y="386.05" width="4.1" height="4.1" fill="#17387d"/>
<rect x="110.05" y="383.75" width="4.1" height="4.1" fill="#17387d"/>
<rect x="115.35" y="386.45" width="4.1" height="4.1" fill="#17387d"/>
<rect x="99.95" y="394.15" width="4.1" height="4.1" fill="#17387d"/>
<rect x="115.35" y="394.15" width="4.1" height="4.1" fill="#17387d"/>
<rect x="105.05" y="396.85" width="4.1" height="4.1" fill="#17387d"/>
<rect x="110.15" y="396.85" width="4.1" height="4.1" fill="#17387d"/>
<rect x="107.65" y="401.95" width="4.1" height="4.1" fill="#17387d"/>
<rect x="107.65" y="411.55" width="4.1" height="4.1" fill="#17387d"/>
<text x="94.8" y="335" font-size="5.7" text-anchor="middle" textLength="14" lengthAdjust="spacingAndGlyphs" fill="#1a1a1a">P=NS</text>
<line x1="82.5" y1="338.1" x2="107.5" y2="338.1" stroke="#2a2a2a" stroke-width="1.3"/>
<text x="38" y="392.5" font-size="8.8" text-anchor="middle" textLength="72.5" lengthAdjust="spacingAndGlyphs" fill="#1a1a1a" transform="rotate(-90 38 392.5)" stroke="#1a1a1a" stroke-width="0.14">Time to occlusion (min)</text>
<text x="83" y="449.2" font-size="6.3" text-anchor="end" textLength="41" lengthAdjust="spacingAndGlyphs" fill="#1a1a1a" transform="rotate(-45 83 449.2)">α9<tspan font-size="4.2" dy="-2.6">fl/fl</tspan><tspan dy="2.6"> LysMCre</tspan><tspan font-size="4.2" dy="-2.6">+</tspan></text>
<text x="90" y="454" font-size="6.3" text-anchor="end" textLength="54" lengthAdjust="spacingAndGlyphs" fill="#1a1a1a" transform="rotate(-45 90 454)">neutrophils→α9<tspan font-size="4.2" dy="-2.6">fl/fl</tspan></text>
<text x="110.6" y="447.6" font-size="6.3" text-anchor="end" textLength="45" lengthAdjust="spacingAndGlyphs" fill="#1a1a1a" transform="rotate(-45 110.6 447.6)">α9<tspan font-size="4.2" dy="-2.6">fl/fl</tspan><tspan dy="2.6"> neutrophils</tspan></text>
<text x="116.8" y="452.4" font-size="6.3" text-anchor="end" textLength="49" lengthAdjust="spacingAndGlyphs" fill="#1a1a1a" transform="rotate(-45 116.8 452.4)">→α9<tspan font-size="4.2" dy="-2.6">fl/fl</tspan><tspan dy="2.6"> LysMCre</tspan><tspan font-size="4.2" dy="-2.6">+</tspan></text>
<text x="144.9" y="341.29999999999995" font-size="12.3" textLength="10.4" lengthAdjust="spacingAndGlyphs" font-weight="bold" fill="#000" stroke="#000" stroke-width="0.45">G</text>
<line x1="176.4" y1="353.4" x2="176.4" y2="441.8" stroke="#111" stroke-width="1.3"/>
<line x1="173.8" y1="356.3" x2="176.4" y2="356.3" stroke="#111" stroke-width="1.3"/>
<text x="170.4" y="358.928" font-size="7.3" text-anchor="end" textLength="12.38" lengthAdjust="spacingAndGlyphs" fill="#1a1a1a" stroke="#1a1a1a" stroke-width="0.12">&gt;40</text>
<line x1="173.8" y1="366.92" x2="176.4" y2="366.92" stroke="#111" stroke-width="1.3"/>
<text x="170.4" y="369.548" font-size="7.3" text-anchor="end" textLength="7.31" lengthAdjust="spacingAndGlyphs" fill="#1a1a1a" stroke="#1a1a1a" stroke-width="0.12">35</text>
<line x1="173.8" y1="377.54" x2="176.4" y2="377.54" stroke="#111" stroke-width="1.3"/>
<text x="170.4" y="380.168" font-size="7.3" text-anchor="end" textLength="7.31" lengthAdjust="spacingAndGlyphs" fill="#1a1a1a" stroke="#1a1a1a" stroke-width="0.12">30</text>
<line x1="173.8" y1="388.16" x2="176.4" y2="388.16" stroke="#111" stroke-width="1.3"/>
<text x="170.4" y="390.788" font-size="7.3" text-anchor="end" textLength="7.31" lengthAdjust="spacingAndGlyphs" fill="#1a1a1a" stroke="#1a1a1a" stroke-width="0.12">25</text>
<line x1="173.8" y1="398.78000000000003" x2="176.4" y2="398.78000000000003" stroke="#111" stroke-width="1.3"/>
<text x="170.4" y="401.408" font-size="7.3" text-anchor="end" textLength="7.31" lengthAdjust="spacingAndGlyphs" fill="#1a1a1a" stroke="#1a1a1a" stroke-width="0.12">20</text>
<line x1="173.8" y1="409.4" x2="176.4" y2="409.4" stroke="#111" stroke-width="1.3"/>
<text x="170.4" y="412.02799999999996" font-size="7.3" text-anchor="end" textLength="7.31" lengthAdjust="spacingAndGlyphs" fill="#1a1a1a" stroke="#1a1a1a" stroke-width="0.12">15</text>
<line x1="173.8" y1="420.02" x2="176.4" y2="420.02" stroke="#111" stroke-width="1.3"/>
<text x="170.4" y="422.64799999999997" font-size="7.3" text-anchor="end" textLength="7.31" lengthAdjust="spacingAndGlyphs" fill="#1a1a1a" stroke="#1a1a1a" stroke-width="0.12">10</text>
<line x1="173.8" y1="430.64" x2="176.4" y2="430.64" stroke="#111" stroke-width="1.3"/>
<text x="170.4" y="433.268" font-size="7.3" text-anchor="end" textLength="3.65" lengthAdjust="spacingAndGlyphs" fill="#1a1a1a" stroke="#1a1a1a" stroke-width="0.12">5</text>
<line x1="173.8" y1="441.26" x2="176.4" y2="441.26" stroke="#111" stroke-width="1.3"/>
<text x="170.4" y="443.888" font-size="7.3" text-anchor="end" textLength="3.65" lengthAdjust="spacingAndGlyphs" fill="#1a1a1a" stroke="#1a1a1a" stroke-width="0.12">0</text>
<line x1="173.8" y1="441.25" x2="245.2" y2="441.25" stroke="#111" stroke-width="1.3"/>
<path d="M186.60 440.70V409.30H205.20V440.70" fill="none" stroke="#c4163f" stroke-width="1.1"/>
<path d="M216.00 440.70V393.00H234.20V440.70" fill="none" stroke="#2f4f92" stroke-width="1.1"/>
<line x1="195.8" y1="407.4" x2="195.8" y2="410.6" stroke="#111" stroke-width="1.0"/>
<line x1="191.20000000000002" y1="407.4" x2="200.4" y2="407.4" stroke="#111" stroke-width="1.0"/>
<line x1="191.20000000000002" y1="410.6" x2="200.4" y2="410.6" stroke="#111" stroke-width="1.0"/>
<line x1="225" y1="387" x2="225" y2="397" stroke="#111" stroke-width="1.0"/>
<line x1="220.6" y1="387" x2="229.4" y2="387" stroke="#111" stroke-width="1.0"/>
<line x1="220.6" y1="397" x2="229.4" y2="397" stroke="#111" stroke-width="1.0"/>
<circle cx="188.00" cy="407.00" r="1.8" fill="#b3002d"/>
<circle cx="191.30" cy="408.00" r="1.8" fill="#b3002d"/>
<circle cx="193.80" cy="406.30" r="1.8" fill="#b3002d"/>
<circle cx="197.50" cy="405.50" r="1.8" fill="#b3002d"/>
<circle cx="200.50" cy="407.50" r="1.8" fill="#b3002d"/>
<circle cx="204.30" cy="408.00" r="1.8" fill="#b3002d"/>
<circle cx="192.50" cy="410.50" r="1.8" fill="#b3002d"/>
<circle cx="198.80" cy="410.50" r="1.8" fill="#b3002d"/>
<circle cx="201.80" cy="410.00" r="1.8" fill="#b3002d"/>
<circle cx="195.00" cy="413.00" r="1.8" fill="#b3002d"/>
<circle cx="196.30" cy="415.00" r="1.8" fill="#b3002d"/>
<rect x="223.05" y="355.05" width="3.9" height="3.9" fill="#17387d"/>
<rect x="223.05" y="376.35" width="3.9" height="3.9" fill="#17387d"/>
<rect x="223.05" y="385.55" width="3.9" height="3.9" fill="#17387d"/>
<rect x="215.55" y="398.05" width="3.9" height="3.9" fill="#17387d"/>
<rect x="223.05" y="396.35" width="3.9" height="3.9" fill="#17387d"/>
<rect x="231.85" y="396.25" width="3.9" height="3.9" fill="#17387d"/>
<rect x="231.85" y="399.05" width="3.9" height="3.9" fill="#17387d"/>
<rect x="218.85" y="406.85" width="3.9" height="3.9" fill="#17387d"/>
<rect x="227.55" y="405.55" width="3.9" height="3.9" fill="#17387d"/>
<text x="209.5" y="348.2" font-size="5.7" text-anchor="middle" textLength="17.6" lengthAdjust="spacingAndGlyphs" fill="#1a1a1a">P&lt;0.05</text>
<line x1="195" y1="351.8" x2="224.3" y2="351.8" stroke="#444" stroke-width="1.7"/>
<text x="153.2" y="397.5" font-size="8.8" text-anchor="middle" textLength="72.5" lengthAdjust="spacingAndGlyphs" fill="#1a1a1a" transform="rotate(-90 153.2 397.5)" stroke="#1a1a1a" stroke-width="0.14">Time to occlusion (min)</text>
<text x="195.8" y="450.8" font-size="6.6" text-anchor="middle" textLength="24.4" lengthAdjust="spacingAndGlyphs" fill="#1a1a1a" stroke="#1a1a1a" stroke-width="0.12">Control-</text>
<text x="195.8" y="459.3" font-size="6.6" text-anchor="middle" fill="#1a1a1a" stroke="#1a1a1a" stroke-width="0.12">Ig</text>
<text x="225.6" y="450.8" font-size="6.6" text-anchor="middle" textLength="22.4" lengthAdjust="spacingAndGlyphs" fill="#1a1a1a" stroke="#1a1a1a" stroke-width="0.12">Anti-α9</text>
<text x="225.4" y="459.3" font-size="6.6" text-anchor="middle" fill="#1a1a1a" stroke="#1a1a1a" stroke-width="0.12">Ig</text>
<line x1="179.2" y1="463.45" x2="245.2" y2="463.45" stroke="#000" stroke-width="1.0"/>
<text x="212" y="472.1" font-size="6.6" text-anchor="middle" textLength="45" lengthAdjust="spacingAndGlyphs" fill="#1a1a1a" stroke="#1a1a1a" stroke-width="0.12">Wild-type mice</text>
<text x="261.7" y="341.29999999999995" font-size="12.3" font-weight="bold" fill="#000" stroke="#000" stroke-width="0.45">H</text>
<text x="310.2" y="350.2" font-size="6.6" text-anchor="middle" textLength="23.8" lengthAdjust="spacingAndGlyphs" fill="#1a1a1a" stroke="#1a1a1a" stroke-width="0.12">Time (s)</text>
<line x1="275" y1="352.8" x2="345" y2="352.8" stroke="#111" stroke-width="1.15"/>
<text x="283" y="361.4" font-size="6.6" text-anchor="middle" fill="#1a1a1a" stroke="#1a1a1a" stroke-width="0.12">5</text>
<text x="302.4" y="361.4" font-size="6.6" text-anchor="middle" fill="#1a1a1a" stroke="#1a1a1a" stroke-width="0.12">30</text>
<text x="321.8" y="361.4" font-size="6.6" text-anchor="middle" fill="#1a1a1a" stroke="#1a1a1a" stroke-width="0.12">60</text>
<text x="341.3" y="361.4" font-size="6.6" text-anchor="middle" fill="#1a1a1a" stroke="#1a1a1a" stroke-width="0.12">120</text>
<g clip-path="url(#ch0)">
<rect x="275.50" y="364.50" width="14.50" height="43.80" fill="#13290a"/>
<rect x="276.10" y="365.10" width="13.30" height="42.60" fill="#295214"/>
<g filter="url(#b05)">
<circle cx="279.23" cy="386.12" r="0.55" fill="#6be034"/>
<circle cx="280.93" cy="385.78" r="0.55" fill="#6be034"/>
<circle cx="279.43" cy="386.21" r="0.55" fill="#6be034"/>
<circle cx="278.26" cy="385.94" r="0.55" fill="#6be034"/>
<circle cx="279.87" cy="386.95" r="0.55" fill="#6be034"/>
<circle cx="277.94" cy="385.19" r="0.55" fill="#6be034"/>
<circle cx="277.93" cy="387.01" r="0.55" fill="#6be034"/>
</g>
<line x1="282.0" y1="367.9" x2="275.3" y2="401.1" stroke="#dde4d6" stroke-width="0.75"/>
<line x1="290.4" y1="369.5" x2="283.5" y2="406.5" stroke="#dde4d6" stroke-width="0.75"/>
</g>
<g clip-path="url(#ch1)">
<rect x="294.90" y="364.50" width="14.80" height="43.80" fill="#13290a"/>
<rect x="295.50" y="365.10" width="13.60" height="42.60" fill="#295214"/>
<g filter="url(#b05)">
<circle cx="301.40" cy="382.56" r="0.9" fill="#74ec3a"/>
<circle cx="302.44" cy="386.88" r="0.9" fill="#74ec3a"/>
<circle cx="301.25" cy="385.24" r="0.9" fill="#74ec3a"/>
<circle cx="299.47" cy="382.43" r="0.9" fill="#74ec3a"/>
<circle cx="300.80" cy="382.64" r="0.9" fill="#74ec3a"/>
<circle cx="299.58" cy="383.49" r="0.9" fill="#74ec3a"/>
<circle cx="299.01" cy="384.53" r="0.9" fill="#74ec3a"/>
<circle cx="300.49" cy="386.30" r="0.9" fill="#74ec3a"/>
<circle cx="300.77" cy="385.36" r="0.9" fill="#74ec3a"/>
<circle cx="300.70" cy="385.46" r="0.9" fill="#74ec3a"/>
<circle cx="300.55" cy="383.66" r="0.9" fill="#74ec3a"/>
<circle cx="302.49" cy="387.02" r="0.9" fill="#74ec3a"/>
<ellipse cx="300.70" cy="384.70" rx="1.5" ry="1.9500000000000002" fill="#66dc34" transform="rotate(20 300.70 384.70)"/>
</g>
<line x1="301.4" y1="367.9" x2="294.7" y2="401.1" stroke="#dde4d6" stroke-width="0.75"/>
<line x1="310.09999999999997" y1="369.5" x2="302.9" y2="406.5" stroke="#dde4d6" stroke-width="0.75"/>
</g>
<g clip-path="url(#ch2)">
<rect x="314.50" y="364.50" width="14.70" height="43.80" fill="#13290a"/>
<rect x="315.10" y="365.10" width="13.50" height="42.60" fill="#295214"/>
<g filter="url(#b05)">
<ellipse cx="320.20" cy="383.90" rx="3.4" ry="5.3" fill="#7df442" transform="rotate(18 320.20 383.90)"/>
</g>
<line x1="321.0" y1="367.9" x2="314.3" y2="401.1" stroke="#dde4d6" stroke-width="0.75"/>
<line x1="329.59999999999997" y1="369.5" x2="322.5" y2="406.5" stroke="#dde4d6" stroke-width="0.75"/>
</g>
<g clip-path="url(#ch3)">
<rect x="333.90" y="364.50" width="14.70" height="43.80" fill="#13290a"/>
<rect x="334.50" y="365.10" width="13.50" height="42.60" fill="#295214"/>
<g filter="url(#b05)">
<ellipse cx="341.40" cy="382.30" rx="2.7" ry="3.8" fill="#7df442" transform="rotate(18 341.40 382.30)"/>
</g>
<line x1="340.4" y1="367.9" x2="333.7" y2="401.1" stroke="#dde4d6" stroke-width="0.75"/>
<line x1="349.0" y1="369.5" x2="341.9" y2="406.5" stroke="#dde4d6" stroke-width="0.75"/>
</g>
<g clip-path="url(#ch4)">
<rect x="275.50" y="414.20" width="14.50" height="43.80" fill="#13290a"/>
<rect x="276.10" y="414.80" width="13.30" height="42.60" fill="#295214"/>
<g filter="url(#b05)">
<circle cx="279.92" cy="435.35" r="0.55" fill="#6be034"/>
<circle cx="278.03" cy="433.63" r="0.55" fill="#6be034"/>
<circle cx="277.94" cy="433.05" r="0.55" fill="#6be034"/>
<circle cx="279.66" cy="434.24" r="0.55" fill="#6be034"/>
<circle cx="279.95" cy="434.19" r="0.55" fill="#6be034"/>
<circle cx="280.35" cy="435.85" r="0.55" fill="#6be034"/>
<circle cx="276.90" cy="433.55" r="0.55" fill="#6be034"/>
</g>
<line x1="277.8" y1="420.2" x2="277.8" y2="450.2" stroke="#dde4d6" stroke-width="0.75"/>
<line x1="284.9" y1="420.2" x2="284.9" y2="452.2" stroke="#dde4d6" stroke-width="0.75"/>
</g>
<g clip-path="url(#ch5)">
<rect x="294.90" y="414.20" width="14.80" height="43.80" fill="#13290a"/>
<rect x="295.50" y="414.80" width="13.60" height="42.60" fill="#295214"/>
<g filter="url(#b05)">
<circle cx="300.28" cy="436.26" r="0.9" fill="#74ec3a"/>
<circle cx="300.53" cy="435.92" r="0.9" fill="#74ec3a"/>
<circle cx="297.26" cy="437.01" r="0.9" fill="#74ec3a"/>
<circle cx="299.80" cy="435.32" r="0.9" fill="#74ec3a"/>
<circle cx="297.31" cy="435.62" r="0.9" fill="#74ec3a"/>
<circle cx="300.47" cy="437.61" r="0.9" fill="#74ec3a"/>
<circle cx="297.42" cy="435.21" r="0.9" fill="#74ec3a"/>
<circle cx="297.36" cy="434.34" r="0.9" fill="#74ec3a"/>
<circle cx="299.87" cy="434.89" r="0.9" fill="#74ec3a"/>
<circle cx="299.01" cy="436.15" r="0.9" fill="#74ec3a"/>
<circle cx="297.69" cy="437.49" r="0.9" fill="#74ec3a"/>
<circle cx="297.47" cy="437.07" r="0.9" fill="#74ec3a"/>
<ellipse cx="298.80" cy="436.40" rx="1.5" ry="1.9500000000000002" fill="#66dc34" transform="rotate(20 298.80 436.40)"/>
</g>
<line x1="297.2" y1="420.2" x2="297.2" y2="450.2" stroke="#dde4d6" stroke-width="0.75"/>
<line x1="304.29999999999995" y1="420.2" x2="304.29999999999995" y2="452.2" stroke="#dde4d6" stroke-width="0.75"/>
</g>
<g clip-path="url(#ch6)">
<rect x="314.50" y="414.20" width="14.70" height="43.80" fill="#13290a"/>
<rect x="315.10" y="414.80" width="13.50" height="42.60" fill="#295214"/>
<g filter="url(#b05)">
<ellipse cx="318.80" cy="434.00" rx="2.5" ry="2.8" fill="#7df442" transform="rotate(0 318.80 434.00)"/>
</g>
<line x1="316.8" y1="420.2" x2="316.8" y2="450.2" stroke="#dde4d6" stroke-width="0.75"/>
<line x1="323.9" y1="420.2" x2="323.9" y2="452.2" stroke="#dde4d6" stroke-width="0.75"/>
</g>
<g clip-path="url(#ch7)">
<rect x="333.90" y="414.20" width="14.70" height="43.80" fill="#13290a"/>
<rect x="334.50" y="414.80" width="13.50" height="42.60" fill="#295214"/>
<g filter="url(#b05)">
<ellipse cx="338.40" cy="434.50" rx="2.2" ry="3.0" fill="#7df442" transform="rotate(0 338.40 434.50)"/>
</g>
<line x1="336.2" y1="420.2" x2="336.2" y2="450.2" stroke="#dde4d6" stroke-width="0.75"/>
<line x1="343.29999999999995" y1="420.2" x2="343.29999999999995" y2="452.2" stroke="#dde4d6" stroke-width="0.75"/>
</g>
<text x="271.2" y="384.8" font-size="6.2" text-anchor="middle" textLength="14.8" lengthAdjust="spacingAndGlyphs" fill="#1a1a1a" transform="rotate(-90 271.2 384.8)">α9<tspan font-size="4.4" dy="-3.1">fl/fl</tspan></text>
<text x="271.4" y="436.4" font-size="6.2" text-anchor="middle" textLength="44" lengthAdjust="spacingAndGlyphs" fill="#1a1a1a" transform="rotate(-90 271.4 436.4)">α9<tspan font-size="4.4" dy="-3.1">fl/fl</tspan><tspan dy="3.1">LysMCre</tspan><tspan font-size="4.4" dy="-3.1">+</tspan></text>
<line x1="389.4" y1="365.4" x2="389.4" y2="441.8" stroke="#111" stroke-width="1.3"/>
<line x1="386.79999999999995" y1="368.1" x2="389.4" y2="368.1" stroke="#111" stroke-width="1.3"/>
<text x="384.2" y="370.728" font-size="7.3" text-anchor="end" textLength="7.31" lengthAdjust="spacingAndGlyphs" fill="#1a1a1a" stroke="#1a1a1a" stroke-width="0.12">10</text>
<line x1="386.79999999999995" y1="382.75" x2="389.4" y2="382.75" stroke="#111" stroke-width="1.3"/>
<text x="384.2" y="385.378" font-size="7.3" text-anchor="end" textLength="3.65" lengthAdjust="spacingAndGlyphs" fill="#1a1a1a" stroke="#1a1a1a" stroke-width="0.12">8</text>
<line x1="386.79999999999995" y1="397.40000000000003" x2="389.4" y2="397.40000000000003" stroke="#111" stroke-width="1.3"/>
<text x="384.2" y="400.028" font-size="7.3" text-anchor="end" textLength="3.65" lengthAdjust="spacingAndGlyphs" fill="#1a1a1a" stroke="#1a1a1a" stroke-width="0.12">6</text>
<line x1="386.79999999999995" y1="412.05" x2="389.4" y2="412.05" stroke="#111" stroke-width="1.3"/>
<text x="384.2" y="414.678" font-size="7.3" text-anchor="end" textLength="3.65" lengthAdjust="spacingAndGlyphs" fill="#1a1a1a" stroke="#1a1a1a" stroke-width="0.12">4</text>
<line x1="386.79999999999995" y1="426.70000000000005" x2="389.4" y2="426.70000000000005" stroke="#111" stroke-width="1.3"/>
<text x="384.2" y="429.32800000000003" font-size="7.3" text-anchor="end" textLength="3.65" lengthAdjust="spacingAndGlyphs" fill="#1a1a1a" stroke="#1a1a1a" stroke-width="0.12">2</text>
<line x1="386.79999999999995" y1="441.35" x2="389.4" y2="441.35" stroke="#111" stroke-width="1.3"/>
<text x="384.2" y="443.978" font-size="7.3" text-anchor="end" textLength="3.65" lengthAdjust="spacingAndGlyphs" fill="#1a1a1a" stroke="#1a1a1a" stroke-width="0.12">0</text>
<line x1="386.8" y1="441.25" x2="503.2" y2="441.25" stroke="#111" stroke-width="1.3"/>
<line x1="389.4" y1="441.25" x2="389.4" y2="444" stroke="#111" stroke-width="1.3"/>
<text x="389.4" y="454" font-size="7.3" text-anchor="middle" textLength="3.65" lengthAdjust="spacingAndGlyphs" fill="#1a1a1a" stroke="#1a1a1a" stroke-width="0.12">0</text>
<line x1="407.9" y1="441.25" x2="407.9" y2="444" stroke="#111" stroke-width="1.3"/>
<text x="407.9" y="454" font-size="7.3" text-anchor="middle" textLength="7.31" lengthAdjust="spacingAndGlyphs" fill="#1a1a1a" stroke="#1a1a1a" stroke-width="0.12">20</text>
<line x1="426.4" y1="441.25" x2="426.4" y2="444" stroke="#111" stroke-width="1.3"/>
<text x="426.4" y="454" font-size="7.3" text-anchor="middle" textLength="7.31" lengthAdjust="spacingAndGlyphs" fill="#1a1a1a" stroke="#1a1a1a" stroke-width="0.12">40</text>
<line x1="444.9" y1="441.25" x2="444.9" y2="444" stroke="#111" stroke-width="1.3"/>
<text x="444.9" y="454" font-size="7.3" text-anchor="middle" textLength="7.31" lengthAdjust="spacingAndGlyphs" fill="#1a1a1a" stroke="#1a1a1a" stroke-width="0.12">60</text>
<line x1="463.4" y1="441.25" x2="463.4" y2="444" stroke="#111" stroke-width="1.3"/>
<text x="463.4" y="454" font-size="7.3" text-anchor="middle" textLength="7.31" lengthAdjust="spacingAndGlyphs" fill="#1a1a1a" stroke="#1a1a1a" stroke-width="0.12">80</text>
<line x1="481.9" y1="441.25" x2="481.9" y2="444" stroke="#111" stroke-width="1.3"/>
<text x="481.9" y="454" font-size="7.3" text-anchor="middle" textLength="10.96" lengthAdjust="spacingAndGlyphs" fill="#1a1a1a" stroke="#1a1a1a" stroke-width="0.12">100</text>
<line x1="500.4" y1="441.25" x2="500.4" y2="444" stroke="#111" stroke-width="1.3"/>
<text x="500.4" y="454" font-size="7.3" text-anchor="middle" textLength="10.96" lengthAdjust="spacingAndGlyphs" fill="#1a1a1a" stroke="#1a1a1a" stroke-width="0.12">120</text>
<text x="446.4" y="466.4" font-size="8.8" text-anchor="middle" textLength="23.6" lengthAdjust="spacingAndGlyphs" fill="#1a1a1a" stroke="#1a1a1a" stroke-width="0.12">Time (s)</text>
<text x="370.8" y="403.4" font-size="8.8" text-anchor="middle" textLength="34" lengthAdjust="spacingAndGlyphs" fill="#1a1a1a" transform="rotate(-90 370.8 403.4)" stroke="#1a1a1a" stroke-width="0.14">MFI (X10<tspan font-size="5.6" dy="-3.0">3</tspan><tspan dy="3.0">)</tspan></text>
<path d="M405.0 408.2L405.9 407.2L406.8 406.9L407.8 405.8L408.7 405.4L409.6 404.6L410.5 404.1L411.5 403.8L412.5 403.2L413.5 402.3L414.5 402.1L415.5 401.4L416.5 400.7L417.5 400.0L418.4 400.8L419.4 401.2L420.3 401.9L421.2 402.3L422.2 402.5L423.1 402.8L424.1 403.6L425.0 403.4L425.9 404.1L426.9 405.0L427.8 405.7L428.8 406.0L429.7 407.3L430.6 408.4L431.6 409.0L432.5 410.0L433.4 410.4L434.4 411.1L435.3 412.2L436.2 412.4L437.2 413.3L438.1 413.8L439.1 414.1L440.0 414.3L441.0 415.1L442.0 415.1L443.0 415.3L444.0 415.6L445.0 416.3L446.0 416.3L447.0 416.5L448.0 416.9L449.0 416.9L450.0 417.6L451.0 417.7L452.0 417.8L453.0 418.3L454.0 418.5L455.0 418.2L456.0 418.6L457.0 418.5L458.0 419.1L459.0 419.1L460.0 418.8L461.0 419.0L462.0 419.2L463.0 419.9L464.0 419.7L465.0 420.1L466.0 420.2L467.0 420.5L468.0 420.7L469.0 421.0L470.0 420.7L471.0 421.3L472.0 421.1L473.0 421.3L474.0 421.3L475.0 421.4L476.0 421.6L477.0 421.7L478.0 421.7L479.0 422.1L480.0 422.1L481.0 421.8L482.0 422.0L483.0 422.3L484.0 422.7L485.0 422.8L486.0 422.6L487.0 422.3L488.0 422.8L489.0 422.6L490.0 422.8L491.0 422.9L492.0 422.8L493.0 422.7L494.0 423.0L495.0 422.7L495.9 422.6L496.8 422.9L497.8 422.4L498.7 422.4L499.6 422.8L500.5 422.5L500.5 432.4L499.6 432.3L498.7 432.5L497.8 432.2L496.8 432.7L495.9 432.7L495.0 432.9L494.0 432.2L493.0 432.2L492.0 432.4L491.0 432.5L490.0 431.9L489.0 431.7L488.0 432.2L487.0 431.6L486.0 432.1L485.0 431.7L484.0 431.7L483.0 431.9L482.0 431.4L481.0 431.5L480.0 431.1L479.0 430.9L478.0 431.2L477.0 430.6L476.0 430.9L475.0 430.7L474.0 430.3L473.0 430.6L472.0 430.2L471.0 430.0L470.0 429.8L469.0 429.9L468.0 429.9L467.0 429.3L466.0 429.3L465.0 428.9L464.0 429.0L463.0 428.7L462.0 428.8L461.0 428.3L460.0 428.2L459.0 427.7L458.0 427.9L457.0 427.3L456.0 427.4L455.0 427.7L454.0 427.1L453.0 427.0L452.0 426.6L451.0 426.5L450.0 426.1L449.0 426.3L448.0 425.9L447.0 425.5L446.0 424.8L445.0 424.6L444.0 424.4L443.0 423.9L442.0 423.5L441.0 423.5L440.0 422.9L439.1 422.7L438.1 422.6L437.2 421.9L436.2 422.1L435.3 421.3L434.4 420.7L433.4 420.7L432.5 420.4L431.6 419.6L430.6 418.7L429.7 418.5L428.8 417.3L427.8 416.9L426.9 416.3L425.9 415.5L425.0 414.5L424.1 413.4L423.1 413.2L422.2 412.7L421.2 412.1L420.3 411.2L419.4 410.7L418.4 410.8L417.5 410.2L416.5 410.1L415.5 410.5L414.5 410.8L413.5 411.1L412.5 411.3L411.5 411.3L410.5 412.1L409.6 412.5L408.7 412.5L407.8 413.1L406.8 413.7L405.9 414.2L405.0 414.0Z" fill="#000"/>
<path d="M389.5 439.5L390.6 437.4L391.6 435.3L392.7 433.2L393.8 430.9L394.7 428.5L395.6 425.2L396.6 423.1L397.5 421.0L398.4 418.5L399.4 416.4L400.3 413.4L401.2 411.4L402.2 409.1L403.1 407.3L404.1 405.3L405.0 402.7L406.0 401.1L407.0 399.5L408.0 398.3L409.0 396.4L410.0 394.1L411.0 393.4L412.0 391.6L413.0 390.8L414.0 389.1L415.0 387.7L416.0 387.2L417.0 385.4L418.0 384.1L419.0 383.6L420.0 382.2L421.0 381.0L422.0 380.8L423.0 379.7L424.0 379.1L425.0 377.9L426.0 377.9L427.0 377.1L428.0 376.8L429.0 376.1L430.0 375.0L431.0 374.8L432.0 374.3L433.0 374.1L434.0 373.8L435.0 373.7L436.1 373.8L437.1 373.1L438.2 373.5L439.2 373.0L440.2 373.4L441.2 374.3L442.1 374.4L443.1 374.7L444.0 375.2L445.0 375.8L446.0 375.8L447.0 377.1L448.0 376.7L449.0 377.9L450.0 378.5L451.0 378.1L452.0 379.1L453.0 379.1L454.0 379.6L455.0 379.5L456.0 379.6L457.0 379.9L458.0 380.8L459.0 380.2L460.0 380.9L461.0 381.4L462.0 381.7L463.0 381.6L464.0 381.9L465.0 382.4L466.0 383.1L467.0 383.0L468.0 384.1L469.0 384.7L470.0 385.2L471.0 384.9L472.0 386.1L473.0 385.7L474.0 386.4L475.0 387.0L476.0 387.6L477.0 387.4L478.0 388.2L479.0 388.1L480.0 388.2L481.0 388.4L482.0 388.5L483.0 388.6L484.0 388.9L485.0 389.6L486.0 390.1L487.0 389.6L488.0 389.7L489.0 390.8L490.0 390.7L491.0 390.7L492.0 390.7L493.0 391.2L494.0 391.5L495.0 391.4L495.9 391.4L496.8 391.2L497.8 392.0L498.7 391.3L499.6 391.8L500.5 391.9L500.5 408.5L499.6 408.5L498.7 407.7L497.8 407.7L496.8 407.3L495.9 407.2L495.0 406.6L494.0 407.1L493.0 406.2L492.0 406.2L491.0 405.9L490.0 405.4L489.0 405.3L488.0 404.7L487.0 404.6L486.0 404.4L485.0 404.3L484.0 404.0L483.0 403.7L482.0 403.7L481.0 403.7L480.0 403.1L479.0 403.3L478.0 403.1L477.0 402.3L476.0 402.4L475.0 401.9L474.0 401.3L473.0 400.8L472.0 401.0L471.0 400.5L470.0 400.2L469.0 399.7L468.0 399.1L467.0 398.9L466.0 398.5L465.0 398.3L464.0 397.4L463.0 397.6L462.0 397.3L461.0 397.0L460.0 396.5L459.0 396.5L458.0 396.1L457.0 395.1L456.0 395.1L455.0 394.8L454.0 394.8L453.0 394.4L452.0 393.7L451.0 393.5L450.0 393.1L449.0 392.1L448.0 392.0L447.0 391.5L446.0 390.9L445.0 390.1L444.0 390.2L443.1 389.8L442.1 389.7L441.2 389.0L440.2 388.9L439.2 388.3L438.2 388.6L437.1 388.2L436.1 388.8L435.0 388.9L434.0 389.4L433.0 389.1L432.0 389.7L431.0 390.0L430.0 390.0L429.0 390.3L428.0 391.1L427.0 391.2L426.0 392.0L425.0 392.4L424.0 393.2L423.0 394.0L422.0 394.8L421.0 395.1L420.0 396.3L419.0 397.3L418.0 397.8L417.0 398.6L416.0 399.9L415.0 401.0L414.0 402.4L413.0 403.9L412.0 405.2L411.0 405.9L410.0 406.9L409.0 408.5L408.0 409.8L407.0 411.3L406.0 412.9L405.0 414.0L404.1 415.8L403.1 418.2L402.2 419.9L401.2 421.9L400.3 423.7L399.4 425.8L398.4 428.6L397.5 430.2L396.6 432.6L395.6 434.4L394.7 437.1L393.8 439.1L392.7 440.4L391.6 441.2L390.6 441.7L389.5 443.3Z" fill="#000"/>
<path d="M410.5 407.8L411.6 407.6L412.7 407.2L413.8 406.8L414.7 406.4L415.6 406.2L416.6 405.9L417.5 405.7L418.4 405.7L419.4 406.1L420.3 406.6L421.2 406.6L422.2 407.1L423.1 407.7L424.1 408.1L425.0 408.9L425.9 409.7L426.9 410.3L427.8 411.0L428.8 411.8L429.7 412.6L430.6 413.3L431.6 414.2L432.5 415.0L433.4 415.4L434.4 415.8L435.3 416.6L436.2 416.8L437.2 417.3L438.1 417.8L439.1 418.3L440.0 418.6L441.0 419.0L442.0 419.3L443.0 419.8L444.0 420.0L445.0 420.4L446.0 420.6L447.0 420.9L448.0 421.0L449.0 421.2L450.0 421.6L451.0 421.8L452.0 422.1L453.0 422.2L454.0 422.4L455.0 422.4L456.0 422.8L457.0 422.8L458.0 422.8L459.0 422.9L460.0 423.1L461.0 423.3L462.0 423.6L463.0 423.6L464.0 423.7L465.0 424.1L466.0 424.3L467.0 424.3L468.0 424.6L469.0 424.9L470.0 425.2L471.0 425.5L472.0 425.7L473.0 425.7L474.0 425.7L475.0 426.0L476.0 426.1L477.0 426.2L478.0 426.3L479.0 426.6L480.0 426.9L481.0 426.9L482.0 426.8L483.0 427.1L484.0 427.0L485.0 427.3L486.0 427.3L487.0 427.5L488.0 427.5L489.0 427.3L490.0 427.4L491.0 427.7L492.0 427.6L493.0 427.6L494.0 427.7L495.0 427.9L495.9 427.9L496.8 427.7L497.8 427.8L498.7 427.6L499.6 427.4L500.5 427.5" fill="none" stroke="#3a62b0" stroke-width="1.1"/>
<path d="M389.5 441.1L390.6 439.6L391.6 438.2L392.7 436.5L393.8 435.0L394.7 432.4L395.6 430.1L396.6 427.6L397.5 425.1L398.4 422.8L399.4 420.8L400.3 418.4L401.2 416.3L402.2 414.1L403.1 412.0L404.1 409.6L405.0 407.3L406.0 405.8L407.0 404.4L408.0 402.8L409.0 401.7L410.0 400.0L411.0 398.9L412.0 397.3L413.0 396.2L414.0 395.2L415.0 393.8L416.0 392.7L417.0 391.7L418.0 390.6L419.0 389.6L420.0 388.6L421.0 387.9L422.0 387.2L423.0 386.7L424.0 385.6L425.0 384.9L426.0 384.4L427.0 383.9L428.0 383.4L429.0 382.9L430.0 382.5L431.0 382.0L432.0 382.1L433.0 381.5L434.0 381.5L435.0 381.1L436.1 380.9L437.1 380.7L438.2 380.8L439.2 380.3L440.2 380.9L441.2 381.1L442.1 381.6L443.1 381.9L444.0 382.0L445.0 382.4L446.0 382.8L447.0 383.4L448.0 383.8L449.0 384.5L450.0 385.2L451.0 385.3L452.0 385.7L453.0 386.2L454.0 386.5L455.0 387.1L456.0 387.3L457.0 387.4L458.0 387.6L459.0 388.1L460.0 388.4L461.0 388.7L462.0 388.9L463.0 389.5L464.0 389.5L465.0 389.8L466.0 390.5L467.0 390.8L468.0 391.0L469.0 391.6L470.0 392.2L471.0 392.4L472.0 392.7L473.0 393.0L474.0 393.4L475.0 394.2L476.0 394.3L477.0 394.8L478.0 394.7L479.0 395.1L480.0 395.3L481.0 395.7L482.0 395.7L483.0 396.0L484.0 396.3L485.0 396.4L486.0 396.6L487.0 396.9L488.0 397.6L489.0 397.6L490.0 398.0L491.0 398.2L492.0 398.4L493.0 398.4L494.0 398.7L495.0 398.8L495.9 399.2L496.8 399.6L497.8 399.7L498.7 400.0L499.6 399.9L500.5 400.2" fill="none" stroke="#d01840" stroke-width="1.1"/>
<line x1="405.8" y1="352.3" x2="412.6" y2="352.3" stroke="#b3002d" stroke-width="1.15"/>
<text x="415.8" y="354" font-size="4.9" textLength="12" lengthAdjust="spacingAndGlyphs" fill="#222">α9<tspan font-size="3.3" dy="-2">fl/fl</tspan></text>
<line x1="437.6" y1="352.3" x2="444.6" y2="352.3" stroke="#17387d" stroke-width="1.15"/>
<text x="448" y="354" font-size="4.9" textLength="37.4" lengthAdjust="spacingAndGlyphs" fill="#222">α9<tspan font-size="3.3" dy="-2">fl/fl</tspan><tspan dy="2"> LysMCre</tspan><tspan font-size="3.3" dy="-2">+</tspan></text>
</svg>
</body></html>
